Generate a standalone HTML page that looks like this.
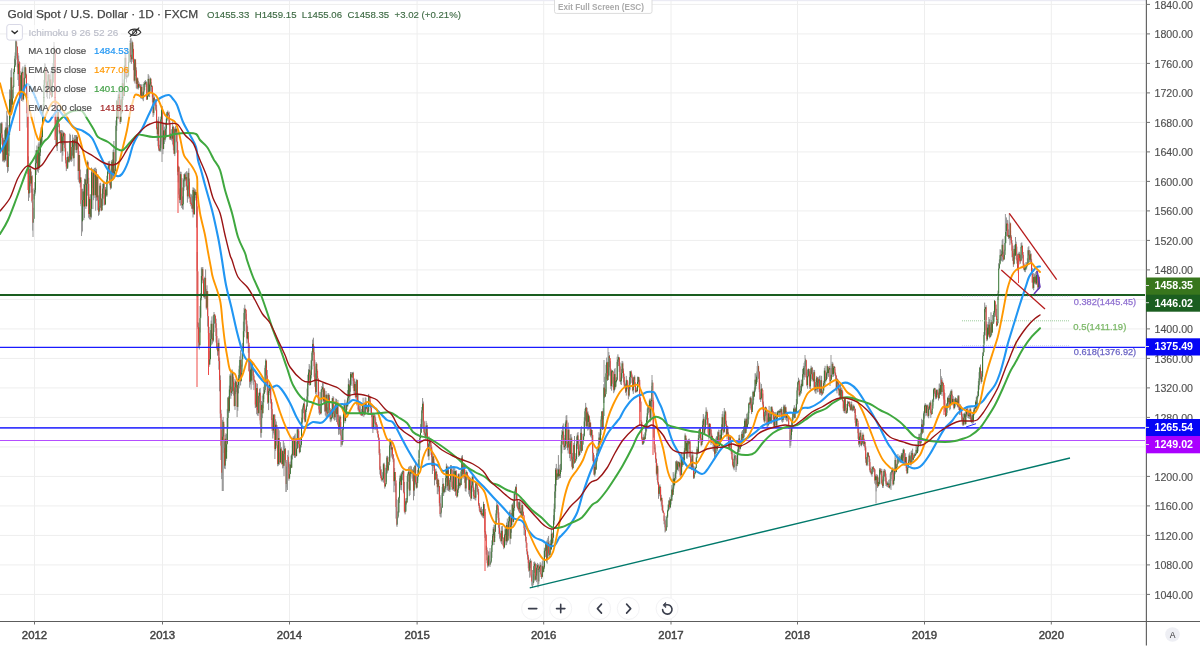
<!DOCTYPE html>
<html lang="en"><head><meta charset="utf-8"><title>Gold Spot / U.S. Dollar</title>
<style>
html,body{margin:0;padding:0;background:#fff}
body{width:1200px;height:653px;overflow:hidden;position:relative;font-family:"Liberation Sans",sans-serif}
svg{position:absolute;left:0;top:0;display:block}
text{font-family:"Liberation Sans",sans-serif}
.ax{font-size:11.3px;fill:#505050;stroke:#505050;stroke-width:0.15px}
.bx{font-size:11.3px;fill:#fff;font-weight:bold}
.yr{font-size:11.4px;fill:#444;stroke:#444;stroke-width:0.45px;text-anchor:middle}
.lg{font-size:9.9px;fill:#505050;stroke:#505050;stroke-width:0.2px}
</style></head><body>
<svg width="1200" height="653" viewBox="0 0 1200 653">
<rect width="1200" height="653" fill="#fff"/>
<rect x="0" y="0" width="1146" height="1.2" fill="#ebebf4"/>
<path d="M0 4.4H1145M0 33.9H1145M0 63.4H1145M0 92.9H1145M0 122.4H1145M0 151.9H1145M0 181.4H1145M0 210.9H1145M0 240.4H1145M0 269.9H1145M0 299.4H1145M0 328.9H1145M0 358.4H1145M0 387.9H1145M0 417.4H1145M0 446.9H1145M0 476.4H1145M0 505.9H1145M0 535.4H1145M0 564.9H1145M0 594.4H1145M34.5 1V621M162.5 1V621M289.5 1V621M417.1 1V621M543.7 1V621M671 1V621M797.5 1V621M924.5 1V621M1051.3 1V621" stroke="#eeeeee" stroke-width="1" fill="none"/>
<filter id="bl" x="-5%" y="-5%" width="110%" height="110%"><feGaussianBlur stdDeviation="0.35"/></filter>
<g fill="none" stroke-width="1" filter="url(#bl)">
<path d="M0.5 123.3V153.2M1.2 122.4V134.1M1.9 121.9V144.5M2.6 134.4V161.5M3.3 138.4V161.2M4 137.6V162.4M4.7 130.2V162.2M5.4 127.1V161M6.1 122.3V160.8M6.8 110.8V166.8M7.5 115.6V172.8M8.2 153.3V171.3M8.9 125V151.3M9.6 89.4V131.4M10.3 90.4V118.5M11 70.2V115M11.7 68.2V111.5M12.4 89.8V102M13.1 85.5V88M13.8 68.7V74M14.5 58.6V68.8M15.2 52.4V67M15.9 40.3V57.8M16.6 43V47M17.3 46.5V67.3M18 53V80M18.7 55.6V86M19.4 61.3V106.4M20.1 71.1V96.9M20.8 75.1V94.2M21.5 72.3V101M22.2 68.4V75.2M22.9 66.5V101.6M23.6 85.2V98M24.3 77.5V95.7M25 64.7V78.6M25.7 68.4V77.9M26.4 73.7V96.5M27.1 85.1V127.6M27.8 93.6V174M28.5 156.3V201M29.2 175.8V197.6M29.9 164.5V193.1M30.6 168V186.3M31.3 171.5V192.5M32 175V202.7M32.7 189.1V230.6M33.4 207.8V222.2M34.1 188.2V199.5M34.8 182.1V195.8M35.5 156.3V192.5M36.2 150V175M36.9 145.5V164.2M37.6 150.1V171.5M38.3 143.5V172.8M39 141.7V170M39.7 143.6V163M40.4 135.7V156M41.1 127.3V147.2M41.8 133V142M42.5 110.7V130M43.2 103.8V116M43.9 79.9V102M44.6 63.2V89.9M45.3 63.5V79.8M46 67V92.3M46.7 81.4V97M47.4 80.8V98.8M48.1 73.1V87.6M48.8 73.8V87.5M49.5 74.5V99M50.2 74.8V95.4M50.9 71V95.1M51.6 89.6V97.6M52.3 66.9V95.9M53 63V83.3M53.7 46.4V73.8M54.4 46V67.9M55.1 54.1V103.5M55.8 99.7V144M56.5 119.7V147.5M57.2 114.7V151M57.9 110.2V123.9M58.6 122.8V127.2M59.3 130V134.2M60 131V140.2M60.7 130V152.9M61.4 130V152.2M62.1 130.1V161.7M62.8 131V155.7M63.5 132.2V144.7M64.2 132.8V144.1M64.9 133.6V151.6M65.6 142.9V163.4M66.3 157.2V171.1M67 162.3V169M67.7 151.5V166.9M68.4 156.2V162.3M69.1 153.6V162.7M69.8 133.6V160.6M70.5 134.9V160.8M71.2 150.6V162M71.9 142.1V161.1M72.6 134.6V155.3M73.3 137.6V158.7M74 143.4V166.3M74.7 135V149.7M75.4 135V146.3M76.1 135V152.9M76.8 135V152.5M77.5 138.8V148.9M78.2 144V179.7M78.9 151V182.2M79.6 159V183.7M80.3 169.5V187.4M81 180V206.2M81.7 189V233.2M82.4 188.7V231.5M83.1 189.2V202.8M83.8 184V220.2M84.5 178.7V217.9M85.2 178.8V185M85.9 174.1V208.9M86.6 169.3V206.5M87.3 160.5V195.7M88 161.7V190.8M88.7 177.8V217.8M89.4 196.9V219M90.1 194.2V219.9M90.8 194.4V219.5M91.5 167.5V217.6M92.2 168.7V188M92.9 175.5V209.1M93.6 169V200.2M94.3 167.8V176.9M95 168V198.1M95.7 167.6V210.7M96.4 169V200.7M97.1 175V201.1M97.8 174V210.2M98.5 195.4V215.8M99.2 205.9V214.7M99.9 183.3V210.4M100.6 182.7V207.9M101.3 198.5V211.2M102 193.7V210M102.7 183.8V206M103.4 182.7V193.9M104.1 181.5V205.2M104.8 193V205.3M105.5 187V202.8M106.2 188.4V196.3M106.9 175.8V196.8M107.6 168.4V184.1M108.3 161.3V174.1M109 161.6V166.7M109.7 160.8V185.3M110.4 182.1V189.6M111.1 168.7V188.9M111.8 160V173.6M112.5 159.3V180.8M113.2 149.8V176M113.9 141V178.7M114.6 169.1V177.6M115.3 148V171M116 120.5V150M116.7 100V130.9M117.4 98.4V117.7M118.1 94.5V119.2M118.8 91V110.5M119.5 88V111.1M120.2 100.7V124M120.9 87.1V120.5M121.6 98.2V114M122.3 70.3V107M123 79.4V100M123.7 83.8V96.5M124.4 65.4V93M125.1 52.9V69.3M125.8 48V79.1M126.5 66.9V82.5M127.2 67V78.1M127.9 74.3V77.4M128.6 51.7V76M129.3 48.7V63M130 40.7V53.5M130.7 38.6V62.2M131.4 54.3V63.8M132.1 40.6V61.8M132.8 44.8V52.4M133.5 49V70.2M134.2 58.7V81.7M134.9 58.9V83.5M135.6 62.4V76.1M136.3 67.3V88.3M137 77.2V89.2M137.7 77.8V89.1M138.4 80.7V89.5M139.1 82.4V88M139.8 84.2V87.4M140.5 84.2V97.7M141.2 84.9V99M141.9 84.1V97.2M142.6 92.4V99.5M143.3 91.2V101.2M144 82V94.4M144.7 81.1V90M145.4 80.1V84.8M146.1 81.1V86.9M146.8 82V100M147.5 95.4V98.7M148.2 74.1V97M148.9 75.5V95.2M149.6 82.5V97.1M150.3 77.5V90.8M151 82V92.9M151.7 85V91.8M152.4 88.1V102.4M153.1 93.3V117M153.8 94.1V115.3M154.5 96.7V103.9M155.2 99V106M155.9 101.3V110.8M156.6 104.9V129.4M157.3 127V141M158 119.4V146.3M158.7 116.7V150.7M159.4 144.8V151.5M160.1 140.4V150.6M160.8 116.6V151.9M161.5 108.8V122.1M162.2 106V144.7M162.9 132.8V154.2M163.6 124V148.4M164.3 126.6V144M165 134.5V141.7M165.7 122.3V138.6M166.4 113.6V136.7M167.1 111.8V119.5M167.8 110.5V120.7M168.5 112.8V115.3M169.2 111.7V125.3M169.9 121.2V139.8M170.6 133V139.9M171.3 129.2V139.9M172 132.6V141.3M172.7 121.2V144.5M173.4 126.2V150.4M174.1 139V154.2M174.8 127.4V156.1M175.5 126.2V134.1M176.2 128V142.4M176.9 129.7V152.7M177.6 151V175.3M178.3 165.7V182.4M179 167.5V198.1M179.7 188.4V203.1M180.4 171.7V205.7M181.1 171.8V195.7M181.8 178V208M182.5 196.4V209.2M183.2 178.3V209.7M183.9 174.1V190.8M184.6 173.4V181.4M185.3 172.7V181.1M186 172V186.6M186.7 171.1V190.2M187.4 185.4V202.7M188.1 171.7V198.7M188.8 168.3V189.7M189.5 178.5V198.3M190.2 193.6V204M190.9 194.6V206.3M191.6 194.4V208.7M192.3 196.2V212.2M193 187.3V217.5M193.7 187.8V214.5M194.4 188.4V214.6M195.1 189.3V200.4M195.8 189.8V198.1M196.5 195V227.6M197.2 252V297.1M197.9 322V328.9M198.6 323.1V347.7M199.3 327.6V349.5M200 306V332.5M200.7 293.2V316.7M201.4 267.3V300.3M202.1 267.6V280.5M202.8 267V283.3M203.5 278.6V297.2M204.2 292.2V298.2M204.9 276.7V298.9M205.6 269.4V298.8M206.3 288.9V309.6M207 285.3V308.5M207.7 308.1V326.6M208.4 319.4V339.7M209.1 326.9V366.8M209.8 350.9V361.5M210.5 330.1V356.3M211.2 320.5V345.4M211.9 316.4V344.5M212.6 333.4V343.5M213.3 315.3V341.8M214 312V332.1M214.7 314.1V323.7M215.4 316.2V327.8M216.1 318.7V342.5M216.8 328.3V349.6M217.5 346.4V355.7M218.2 340.2V355.1M218.9 338.4V369.7M219.6 357.5V391.3M220.3 375.4V418M221 409.8V460M221.7 430.1V479.1M222.4 419.9V491M223.1 416.9V439.6M223.8 424.2V453M224.5 441.5V468.5M225.2 434.9V469.1M225.9 433.3V461.1M226.6 434V452M227.3 408.9V442.7M228 397.2V428.7M228.7 396.2V412.7M229.4 385.6V412.7M230.1 374V395.4M230.8 369.5V398.8M231.5 386.7V395.8M232.2 369.5V394M232.9 371.7V382.3M233.6 376.9V395.6M234.3 382.9V406.5M235 378.9V409.9M235.7 380.4V394.1M236.4 382.9V392.1M237.1 384.3V417.1M237.8 379.7V410.8M238.5 375V393.4M239.2 365.7V388.4M239.9 356.3V372.9M240.6 350.2V385.5M241.3 364.6V377.7M242 352.8V366.7M242.7 342.9V355M243.4 321.6V346.5M244.1 307.9V337.3M244.8 304.7V320.3M245.5 308.9V319.4M246.2 313.7V332.7M246.9 320.7V343.5M247.6 326.3V339.5M248.3 335.7V352.8M249 345V371.6M249.7 359.1V387.7M250.4 361.6V384.5M251.1 369.3V389.6M251.8 361.1V382.6M252.5 365.2V370.6M253.2 369.8V384.8M253.9 374.3V390.1M254.6 379.5V382M255.3 380.4V408.1M256 399.2V407.7M256.7 383.1V414.2M257.4 383.9V415.4M258.1 402.1V416.1M258.8 392.7V413.9M259.5 388.8V402.6M260.2 388V424.5M260.9 410.4V436.9M261.6 401V428.8M262.3 395.6V418.1M263 393.4V408.3M263.7 386.8V399M264.4 382.6V394M265.1 365.4V392.3M265.8 358.7V375.3M266.5 362V383.4M267.2 370V395.2M267.9 381.9V404M268.6 388.9V410.1M269.3 381.5V392.9M270 385V395.1M270.7 388.5V403.5M271.4 398.9V420M272.1 402.2V430.9M272.8 418.2V438.5M273.5 414.2V433.3M274.2 414V435M274.9 414.5V459M275.6 419.2V450.8M276.3 421.5V439.5M277 425V447.9M277.7 444.9V466.3M278.4 428.5V465.6M279.1 430.3V464.9M279.8 452.4V463.8M280.5 442.2V462.8M281.2 447V462.8M281.9 453V464.5M282.6 450.4V468.4M283.3 440.6V467.8M284 442.8V476.1M284.7 445.7V460.2M285.4 448V463.1M286.1 460V491.9M286.8 464.5V487.4M287.5 455V470.2M288.2 450.3V468.3M288.9 462.1V480.7M289.6 463.8V477M290.3 461.5V473.5M291 455.5V468.2M291.7 453.8V467.7M292.4 438.5V459.4M293.1 436.7V442.2M293.8 436.2V456.2M294.5 435.3V457.8M295.2 433.6V458M295.9 448.5V456.8M296.6 441.5V455.7M297.3 427.2V448.9M298 426.9V432.9M298.7 429.1V447.8M299.4 438.8V453.4M300.1 438.8V452.4M300.8 437.4V447.8M301.5 417.7V443.3M302.2 409V424.8M302.9 405.5V410.2M303.6 403.2V413.2M304.3 397.8V420.2M305 417.6V422.5M305.7 408.6V417.3M306.4 404.7V412M307.1 388.6V406.8M307.8 374.7V401.4M308.5 369.2V384.9M309.2 364V380.2M309.9 365.6V385.8M310.6 371.4V382M311.3 359.6V378.5M312 351.1V369.5M312.7 339.6V360.9M313.4 337.7V354.9M314.1 345.9V376.8M314.8 359.8V386.8M315.5 373.3V393.8M316.2 362V395.5M316.9 369V372.3M317.6 376V379.5M318.3 380.7V404.1M319 391.7V413.5M319.7 406.3V415.1M320.4 406.2V414M321.1 389.6V414.4M321.8 386.1V399.4M322.5 383.1V389.9M323.2 381.9V402M323.9 388V403.8M324.6 388.2V411.6M325.3 398.8V415.5M326 391V416.7M326.7 394.5V417.8M327.4 407.4V417.4M328.1 393V416.8M328.8 393.4V401.3M329.5 394.9V416.7M330.2 408.1V421.5M330.9 416.8V422.2M331.6 408.9V420.7M332.3 397.8V418.2M333 396V405.8M333.7 397.2V419.2M334.4 411.1V420.6M335.1 405V420.1M335.8 398.5V413.2M336.5 399V422.1M337.2 402.8V417M337.9 399.9V425.5M338.6 414.9V434.8M339.3 416.3V434.3M340 415V425.2M340.7 422V435.7M341.4 430.1V444.9M342.1 437V445.5M342.8 426.7V442M343.5 410V430.2M344.2 403.5V415M344.9 399.6V423.3M345.6 408.6V418M346.3 402.1V413.5M347 400.5V410M347.7 390.1V406.5M348.4 378.5V400.7M349.1 381.2V402.3M349.8 380.1V400.5M350.5 372V391.8M351.2 372V384.4M351.9 372.6V385.9M352.6 372V378.1M353.3 371.8V388.1M354 379.1V393.6M354.7 378.5V394M355.4 381.6V397.6M356.1 389.3V399.2M356.8 378.9V405.4M357.5 381.2V402.6M358.2 394.2V410.8M358.9 406.5V412.4M359.6 405.3V414.1M360.3 406.1V415.1M361 410.7V415.5M361.7 408.9V415.8M362.4 403V416.2M363.1 397.7V415M363.8 404.1V416.9M364.5 406.5V415.3M365.2 397.4V412.8M365.9 397.8V409.8M366.6 401.3V409.1M367.3 404.8V413.2M368 409.1V415M368.7 393.9V414.9M369.4 397V403.7M370.1 400.5V405.9M370.8 404V414.8M371.5 407.5V417.2M372.2 412.4V428.7M372.9 422.7V433M373.6 412.7V429.2M374.3 413.8V418.2M375 415V429.9M375.7 418.5V429.3M376.4 422V427.1M377.1 425.7V432.9M377.8 431V437.6M378.5 436.2V440.9M379.2 441V455.1M379.9 448.9V474.5M380.6 466.3V477.9M381.3 469.3V480.7M382 475.2V481.7M382.7 472.2V480.7M383.4 463.2V482.6M384.1 462.7V473.1M384.8 467.9V488.6M385.5 483V486M386.2 465.2V481.8M386.9 455.9V473.9M387.6 455.8V472.7M388.3 462.2V468.5M389 457V465M389.7 438.5V461.5M390.4 438.6V446.3M391.1 441.4V457.6M391.8 445.3V456.1M392.5 448.7V459.3M393.2 454V462.2M393.9 459.2V492.2M394.6 468V485.7M395.3 477.3V492.4M396 483.3V518.6M396.7 499.1V525.6M397.4 511.2V523.8M398.1 511.5V518.2M398.8 496.8V513M399.5 478.3V502.9M400.2 474.7V489.9M400.9 473.5V487.6M401.6 472.3V490.3M402.3 471.2V479.9M403 470V480.5M403.7 471.7V493.4M404.4 481.9V512.6M405.1 500.7V514.4M405.8 498.3V510.8M406.5 497.9V504.5M407.2 475.9V499.7M407.9 472.4V488.8M408.6 467.3V475.6M409.3 466.2V496.2M410 472.7V495M410.7 465.7V476.5M411.4 466.4V474.1M412.1 469.6V478.6M412.8 469V481.3M413.5 467.3V500.3M414.2 473.9V496.1M414.9 465.2V485.1M415.6 462V484.2M416.3 475.3V488.6M417 476.8V488.2M417.7 469.9V480.7M418.4 459.4V471.3M419.1 449.6V458M419.8 435.4V444M420.5 424.1V436.7M421.2 418.7V432M421.9 407V428M422.6 398V413.2M423.3 401.5V427.4M424 420.7V435M424.7 428.6V435.9M425.4 433.2V438.5M426.1 420.9V439.8M426.8 422.9V435.2M427.5 425.2V448.5M428.2 443.9V457M428.9 436.2V460.2M429.6 438V446.1M430.3 441.5V449.6M431 445V454.8M431.7 448.5V466.1M432.4 452V474M433.1 455.5V470.9M433.8 459V467.7M434.5 462.5V485.4M435.2 469.2V480.4M435.9 468.6V475.3M436.6 471.4V484.1M437.3 474.2V494M438 478.3V494.4M438.7 483V491.6M439.4 486V506.3M440.1 496.7V516.4M440.8 504V517.2M441.5 506.5V512.8M442.2 486.9V507.5M442.9 478V494.1M443.6 483.2V496M444.3 486.2V493.3M445 486.3V489.9M445.7 470V492.2M446.4 463.6V482.2M447.1 465.4V490.1M447.8 466.7V490.5M448.5 466.6V491M449.2 482.6V491.5M449.9 477.9V491.9M450.6 465V481.9M451.3 465V472.8M452 467.5V489.8M452.7 481.5V490.2M453.4 468.2V490.8M454.1 466.6V476.9M454.8 468.5V491.7M455.5 470.8V495.7M456.2 470.1V489.9M456.9 485.1V497.8M457.6 489.2V495.6M458.3 473.7V492.8M459 473.2V486.4M459.7 482V488.3M460.4 477.5V486.5M461.1 470.3V484.7M461.8 455.7V479.7M462.5 455.2V476.1M463.2 466.2V478.7M463.9 463.4V472.5M464.6 464.4V482.8M465.3 473.9V491.1M466 470V491.8M466.7 471.7V480.4M467.4 473.5V477.7M468.1 475.1V480.2M468.8 476.2V494.3M469.5 477.2V496.6M470.2 477.7V493.3M470.9 485.9V500.8M471.6 480.4V499M472.3 475.3V487.5M473 476V491.7M473.7 486.6V499.1M474.4 489.9V499M475.1 492V500.2M475.8 482.7V500.5M476.5 483.2V486.3M477.2 485.5V492.2M477.9 487.2V494.7M478.6 489V505.9M479.3 503V510.7M480 506.7V512.5M480.7 508.7V514.2M481.4 506.8V515.6M482.1 509.4V516.6M482.8 509V517.7M483.5 501.7V518.3M484.2 504V516M484.9 509V537.9M485.6 531V540.8M486.3 545.7V554.7M487 547.5V563.3M487.7 557.4V567.6M488.4 551.5V566.6M489.1 551.3V565.9M489.8 558.8V565.2M490.5 561.1V564.3M491.2 551.2V563.2M491.9 540.4V557.9M492.6 534V545.6M493.3 527V537.7M494 524.7V545M494.7 525.1V538M495.4 521.2V531M496.1 510.2V524.5M496.8 502.2V514.9M497.5 504.7V509.7M498.2 508.4V520.2M498.9 512.3V534.2M499.6 524.2V538.7M500.3 532.8V540.7M501 530.6V542.5M501.7 526.3V544.2M502.4 526V539.1M503.1 537V545.9M503.8 540.8V549.2M504.5 533.9V548M505.2 527V537.4M505.9 527V545.3M506.6 522.6V544.9M507.3 518.5V542.5M508 524.6V540M508.7 517V536.2M509.4 511.5V522.7M510.1 509.8V544.3M510.8 518.1V539M511.5 512.9V532.8M512.2 504V519.6M512.9 502.9V525.5M513.6 500.5V522M514.3 493.2V510.8M515 489.4V499.7M515.7 486.3V494.9M516.4 484.1V499.9M517.1 494.7V507.4M517.8 501.3V509.6M518.5 502.1V511.3M519.2 501.4V512.3M519.9 498.6V513.3M520.6 508.1V514.4M521.3 510.6V518M522 501.7V517.1M522.7 507V516.9M523.4 514V515.8M524.1 521V535M524.8 528V535.8M525.5 535V541.5M526.2 542V547.8M526.9 549V554.5M527.6 551.5V559.6M528.3 554.8V568.3M529 560.5V571.9M529.7 559.8V577.7M530.4 558.5V568.2M531.1 560.3V577.3M531.8 574.7V585.7M532.5 576.6V588M533.2 574.1V585.2M533.9 561.9V582.4M534.6 561.5V572.8M535.3 562.7V580.7M536 574V580M536.7 564.1V582.2M537.4 562.9V573.3M538.1 564.9V584.4M538.8 563.8V583.8M539.5 566.3V572.1M540.2 562.2V570.8M540.9 563.5V577M541.6 573.5V579M542.3 561.2V576.4M543 559.9V572.7M543.7 565.5V569.7M544.4 547.7V568.8M545.1 548V557.1M545.8 543V556.9M546.5 541.4V562.4M547.2 539.8V563.7M547.9 537.8V547.3M548.6 536V556.4M549.3 549.6V557.1M550 540.9V555M550.7 539.6V552.6M551.4 528.4V549.6M552.1 532.4V545.4M552.8 533.2V541.2M553.5 515.1V535M554.2 503.6V524.7M554.9 484V512M555.6 468V498M556.3 463.9V485.5M557 467.8V475M557.7 469V477.5M558.4 455.1V479.5M559.1 464.7V478.5M559.8 468.5V478M560.5 463.9V478M561.2 440.7V472M561.9 430.2V453.4M562.6 425.6V438.1M563.3 423.4V444.8M564 434.8V450M564.7 438.1V450M565.4 422.3V449.3M566.1 415.6V431.9M566.8 415.1V447.9M567.5 442V450.3M568.2 422.6V453.6M568.9 428.8V448.4M569.6 438.2V458.1M570.3 434.5V461.2M571 434V447.2M571.7 436.8V466.8M572.4 452.9V469.6M573.1 455.8V468M573.8 442.9V459M574.5 436V463.8M575.2 453.2V462M575.9 456.1V460.3M576.6 436.5V459.4M577.3 433.2V449.2M578 432V448.2M578.7 439.4V457M579.4 450.9V455.9M580.1 439.4V454.9M580.8 428.5V449.3M581.5 426.3V452.8M582.2 443.6V450.4M582.9 433.9V444.8M583.6 433.6V439.3M584.3 417.3V434.7M585 408.7V426.6M585.7 402.9V419.8M586.4 406.9V428.2M587.1 407.8V428.6M587.8 411.1V430.6M588.5 414V429.5M589.2 416.8V429.1M589.9 419.6V435.1M590.6 423V436.7M591.3 427.8V437.8M592 430V443.9M592.7 435.2V460.9M593.4 452.8V465M594.1 455.1V475.2M594.8 459.5V476.6M595.5 459.9V473.5M596.2 458.8V468.7M596.9 448.6V462.2M597.6 448.3V459.3M598.3 443.1V454.7M599 432.2V450M599.7 433.7V443.9M600.4 428V443M601.1 416.3V435.1M601.8 411V420.6M602.5 410.9V430M603.2 408.2V419.5M603.9 384.1V403M604.6 376.8V398M605.3 389V395.7M606 364.8V391.7M606.7 357.6V379.2M607.4 361.7V381M608.1 368.6V375.7M608.8 352V376.5M609.5 355V367.2M610.2 361.1V375.9M610.9 368.6V389.1M611.6 369.8V390.7M612.3 370.6V373M613 372V387.2M613.7 377.2V393.2M614.4 369.2V391.5M615.1 368.1V389.5M615.8 377.4V386M616.5 377.2V382.4M617.2 356.7V379.4M617.9 354.3V364.2M618.6 356.7V366M619.3 358.6V371.9M620 362.5V382M620.7 377.4V384.3M621.4 369.1V385M622.1 360.9V378.4M622.8 361.5V373.1M623.5 368.5V382.4M624.2 373.6V388M624.9 382.6V388.1M625.6 383.9V393M626.3 375.9V395.6M627 380V381.7M627.7 382.3V389.3M628.4 384.9V399.4M629.1 387.3V396.8M629.8 371V390.5M630.5 371V383.9M631.2 370.4V377.1M631.9 373.6V382.8M632.6 376.7V391.4M633.3 377.5V393.9M634 376.5V380.7M634.7 375.4V386.8M635.4 382.2V392.8M636.1 387.7V392.1M636.8 387.4V392.4M637.5 376.7V391.6M638.2 376.6V385M638.9 377.6V384.2M639.6 379.7V403.4M640.3 398.5V411.9M641 420V426.1M641.7 421.8V439.7M642.4 437.2V445M643.1 436.7V444.7M643.8 434.4V443M644.5 436.4V441.2M645.2 432.1V439M645.9 424.1V435.5M646.6 416.6V431.2M647.3 408.5V426.1M648 405V414.8M648.7 405.1V409.4M649.4 399.4V412.2M650.1 398.3V422.2M650.8 399.1V420.5M651.5 386V408.1M652.2 380V397.4M652.9 397.5V407.4M653.6 424V437.7M654.3 442.3V449.3M655 447.5V453.4M655.7 452.8V462.8M656.4 458.5V475.5M657.1 463.3V480.1M657.8 468.5V484.7M658.5 481.8V498.8M659.2 484.9V496.3M659.9 484.3V494.5M660.6 489.5V501.5M661.3 494.8V506.6M662 500V510.4M662.7 505.3V512.6M663.4 510.5V513.4M664.1 515.5V524.3M664.8 519V527.3M665.5 520.2V531.7M666.2 526V530.5M666.9 515.4V527.3M667.6 509.6V518M668.3 504.3V511.4M669 500V509.3M669.7 497.3V509.4M670.4 498.9V508M671.1 494.8V504.5M671.8 485.1V501M672.5 487.6V496.7M673.2 472.1V492M673.9 474.4V488.7M674.6 477.9V486.3M675.3 470.5V480.4M676 461V479.4M676.7 460.3V473.8M677.4 461.1V470.3M678.1 461.1V469.6M678.8 461.8V471.3M679.5 462V468.2M680.2 456.6V476.8M680.9 469.3V475.8M681.6 452.3V472M682.3 457.2V466.9M683 452.5V465M683.7 451.7V460.5M684.4 447.9V461.5M685.1 433.4V452.4M685.8 435.8V452.3M686.5 438.3V458.4M687.2 440.3V458.8M687.9 439.7V457.2M688.6 438.9V445.5M689.3 438.6V449.2M690 440.4V457.6M690.7 451.6V466.6M691.4 458.8V470.1M692.1 450.5V468.2M692.8 453V470.2M693.5 465.8V478.8M694.2 468.6V478.7M694.9 466.4V474M695.6 467V469M696.3 456.9V462M697 446.6V455M697.7 447.1V453.2M698.4 435.1V451.5M699.1 429.7V442.9M699.8 428V431.5M700.5 427.4V440.3M701.2 432.3V446.3M701.9 440.1V443.8M702.6 420.6V441.4M703.3 414V427.8M704 416.8V434.7M704.7 428.3V431.5M705.4 415.2V429.6M706.1 407.3V425M706.8 409.7V415.5M707.5 412V424.8M708.2 418V435.2M708.9 431.5V439.7M709.6 423V436.2M710.3 426.5V433.8M711 430V444.9M711.7 433.5V443M712.4 437V443.7M713.1 440V450.6M713.8 440V451.7M714.5 440V457.7M715.2 439.5V457M715.9 437.7V444.5M716.6 436.2V453.1M717.3 436.1V451.2M718 431.3V439.9M718.7 429.6V447.6M719.4 438.3V446M720.1 429.9V444.2M720.8 429.7V442.1M721.5 424.3V440.2M722.2 414V430.8M722.9 411.2V435.3M723.6 429.7V433.2M724.3 408V432.6M725 410.3V420.4M725.7 413.7V426.1M726.4 420.7V435.6M727.1 425.4V439.5M727.8 427.8V434.9M728.5 432.2V448.8M729.2 442.3V449.7M729.9 435.6V450.4M730.6 438.4V442.8M731.3 441.5V454.1M732 450.6V459.9M732.7 457.5V466.4M733.4 461.9V468.7M734.1 453.4V470.3M734.8 454.5V460M735.5 455V460.4M736.2 455.8V469.9M736.9 460.5V466.3M737.6 449.3V464.3M738.3 439.9V453.9M739 435V443.9M739.7 434.7V452.2M740.4 444.1V449.4M741.1 442.7V446.6M741.8 431.5V444.2M742.5 430.1V440.8M743.2 432V439.5M743.9 426V437.7M744.6 418.5V433.5M745.3 420.4V433.9M746 417.7V431.5M746.7 413.7V429M747.4 417.2V426.8M748.1 411.7V424.7M748.8 402.6V419.4M749.5 402.3V405M750.2 397V408.2M750.9 396.2V409.8M751.6 398.5V414.1M752.3 402.3V409.5M753 390.7V405M753.7 391.3V400.3M754.4 387.3V395.7M755.1 373.3V392.2M755.8 373.4V388.9M756.5 375.4V386M757.2 366.1V382.3M757.9 363.4V374.6M758.6 367.6V378.8M759.3 371.5V392.1M760 382.4V400M760.7 392.3V402M761.4 383.9V399.5M762.1 388.3V391M762.8 393.5V410.2M763.5 401.5V419.8M764.2 414.6V422.2M764.9 407.1V423.1M765.6 406.5V416.3M766.3 408.3V415.3M767 410V426.7M767.7 417.6V426.9M768.4 412.3V425.9M769.1 405.9V424.5M769.8 412.4V421M770.5 413.6V421.7M771.2 406.4V424M771.9 406.3V415.4M772.6 408.7V413.5M773.3 411V424.9M774 414.6V428M774.7 412V428M775.4 412.4V418M776.1 411.9V427.9M776.8 413.4V427.5M777.5 411V420.6M778.2 410.5V415.3M778.9 410.1V415.8M779.6 409.4V417.5M780.3 408.8V415.4M781 408.3V414M781.7 406.9V421.5M782.4 414.8V422.6M783.1 409.3V421.8M783.8 404.6V413.3M784.5 405.2V417.8M785.2 404.6V419.9M785.9 406.7V418.1M786.6 410.9V421.4M787.3 412V421.4M788 416.7V418.8M788.7 421.3V428.8M789.4 426V428.7M790.1 429.5V445.9M790.8 432.7V445.6M791.5 422.1V439.4M792.2 417.3V431.8M792.9 412.3V420.9M793.6 407.7V417M794.3 405.2V418.3M795 407V418.3M795.7 407.9V413.7M796.4 399V409M797.1 387.4V404.6M797.8 381.5V391.2M798.5 377.7V384.6M799.2 379.5V396.8M799.9 389V396.1M800.6 385.7V393.7M801.3 379.7V393.5M802 379.7V387.5M802.7 369V386.5M803.4 366.1V377.5M804.1 362.8V379.8M804.8 361.2V376.9M805.5 358.4V367M806.2 360.6V377.9M806.9 372.1V386.3M807.6 369.6V388.7M808.3 368.3V377.3M809 369V372.6M809.7 371V388.8M810.4 369.2V389M811.1 365.7V381.3M811.8 366.9V378.9M812.5 367.4V380M813.2 378.5V381.8M813.9 369.8V387.5M814.6 370.1V391.5M815.3 385.3V393.3M816 379.5V393.8M816.7 376.1V385.3M817.4 377.1V392.3M818.1 377.8V392.1M818.8 376.8V383M819.5 375.7V394.4M820.2 388.8V394.9M820.9 375.5V394.3M821.6 376V395.8M822.3 391.9V395.1M823 386.1V393M823.7 380.8V390.9M824.4 367.9V385.7M825.1 365.8V384.9M825.8 376.7V382.1M826.5 372.1V380M827.2 364.3V378.8M827.9 367.5V375.5M828.6 367.1V376.9M829.3 366V369.9M830 365.8V386M830.7 375V380.4M831.4 368.1V378.5M832.1 361.8V374.8M832.8 362.6V377.1M833.5 366V376.6M834.2 365.9V369.7M834.9 369.2V375.7M835.6 372.4V380.3M836.3 375.2V391.1M837 378V393.4M837.7 379.4V384.1M838.4 380.8V390.6M839.1 389.5V395.9M839.8 386.4V397.8M840.5 386V399.3M841.2 387.4V399.7M841.9 388.2V393.5M842.6 390.6V401.5M843.3 399.9V410.8M844 403.8V412.5M844.7 397.1V413.2M845.4 398.4V410.2M846.1 404V413.9M846.8 410.3V413.2M847.5 400.7V412.7M848.2 401.2V406.2M848.9 401.9V404M849.6 401.4V407.4M850.3 405.5V410.7M851 401.7V410M851.7 401.6V410.7M852.4 405.6V411.4M853.1 404.7V410.4M853.8 404.7V411.1M854.5 406.5V413M855.2 409V422.9M855.9 415V427.9M856.6 418.1V426.5M857.3 419.5V422.3M858 423V438.8M858.7 427.7V445.2M859.4 436V447.2M860.1 431.7V441M860.8 430V445.8M861.5 438.7V446.3M862.2 435V444.8M862.9 432.6V436.8M863.6 435.5V446.1M864.3 438.7V446.5M865 442V450.4M865.7 446.2V462.8M866.4 457.3V465.6M867.1 453.5V466.2M867.8 452V458.5M868.5 453.8V457M869.2 455.5V465.9M869.9 458.8V472.3M870.6 467.8V473.2M871.3 471.3V475.2M872 466.5V476.8M872.7 466.9V473.4M873.4 466V471.8M874.1 467.8V471.4M874.8 469.5V483.6M875.5 474.9V484.8M876.2 474V491.4M876.9 475.6V486.1M877.6 474.7V488M878.3 477.4V485.7M879 481.1V485.7M879.7 468V484.4M880.4 468.3V474.3M881.1 468.7V475.2M881.8 469.2V484.7M882.5 479.5V487.8M883.2 474.6V487.9M883.9 469.4V481.2M884.6 468.9V476.9M885.3 469.8V481.5M886 473.6V486M886.7 481.2V486.5M887.4 481.6V486.9M888.1 482.3V487.4M888.8 479.8V487.9M889.5 483.4V488.4M890.2 473.5V488.6M890.9 471.9V481M891.6 469.9V474.9M892.3 467.4V473.5M893 467.7V485.7M893.7 473.2V484.5M894.4 468.6V481M895.1 455.7V474.3M895.8 457.9V472.8M896.5 464.4V468.2M897.2 463.2V464.7M897.9 454V463.6M898.6 457.6V462.6M899.3 455.6V462.2M900 455.8V462.5M900.7 456.9V462.9M901.4 452.9V463.2M902.1 453.2V462.3M902.8 449.4V463.5M903.5 448.5V457.8M904.2 449.2V465.2M904.9 457.7V465.9M905.6 453.2V463.4M906.3 456.9V471M907 464.2V474.1M907.7 467V470M908.4 459.7V467.6M909.1 453.7V464.3M909.8 452.3V464.7M910.5 456.5V465.3M911.2 450.8V465.4M911.9 450.5V456.8M912.6 448.6V462.9M913.3 456.6V460.4M914 453.4V458M914.7 452.7V456.9M915.4 453.6V455.9M916.1 444.7V454.8M916.8 446.1V453.8M917.5 445.6V452.7M918.2 438.6V451.4M918.9 433.8V442.5M919.6 433.9V444.4M920.3 438.8V446.4M921 427V442.7M921.7 418.7V435.2M922.4 419.9V434M923.1 420.3V429.5M923.8 411.3V426M924.5 404.7V418.5M925.2 403.2V411.6M925.9 403.9V416.3M926.6 405V415.4M927.3 404.8V409M928 404.5V417.2M928.7 406.9V418.3M929.4 403.2V410M930.1 402V407.9M930.8 400.4V417.9M931.5 410.4V414.7M932.2 405.1V410M932.9 398.8V405.6M933.6 388.6V401.9M934.3 387.8V394.1M935 388V396.4M935.7 390.8V399.3M936.4 389.4V399.1M937.1 389.7V394M937.8 389.5V397.6M938.5 392.8V400.5M939.2 383.7V398.6M939.9 383.5V394.9M940.6 377.8V392.3M941.3 376.2V394.1M942 378V396M942.7 380.5V386.1M943.4 382.9V398.6M944.1 389.5V404.5M944.8 393V411.7M945.5 405.8V417M946.2 409.1V416.1M946.9 403V415.1M947.6 397.1V408.5M948.3 396V406.8M949 395V406.8M949.7 393.5V410.4M950.4 391.5V409.2M951.1 389.7V395.9M951.8 389.5V404.8M952.5 394.6V402M953.2 396.1V405.7M953.9 400.4V409.5M954.6 398.9V408.7M955.3 397.2V406.6M956 400V403.7M956.7 398.2V404.8M957.4 398.9V407.2M958.1 395V407.4M958.8 395V410.2M959.5 405V414.8M960.2 404.1V412.4M960.9 409.3V415M961.6 410.6V420.9M962.3 413.7V424.7M963 418.7V426M963.7 413.5V425.6M964.4 413V422.1M965.1 411.8V424.8M965.8 410.5V423.8M966.5 408.5V416.7M967.2 407.2V411.1M967.9 407.9V418M968.6 411.1V418.3M969.3 411.7V418.8M970 407.4V418.7M970.7 408.5V421.8M971.4 417.1V423.2M972.1 414.2V422.4M972.8 412.1V423.9M973.5 410.2V422.7M974.2 407.9V415.3M974.9 405.3V410.9M975.6 400.4V409.1M976.3 396.7V412.2M977 395.5V407M977.7 391.3V398.6M978.4 381V393.1M979.1 372.2V389.6M979.8 366.8V380.1M980.5 364.5V379.4M981.2 371.4V383.7M981.9 371V379M982.6 352.5V373M983.3 345.1V353M984 332V343.5M984.7 302.6V335.7M985.4 306.9V312.3M986.1 305.2V335.6M986.8 324.5V341.2M987.5 324.3V340.5M988.2 321.8V336.6M988.9 317V336.4M989.6 319.2V338.4M990.3 327.4V337.5M991 312.3V336.5M991.7 320V335.4M992.4 315V331M993.1 319.4V324M993.8 310.9V323.3M994.5 300V317M995.2 302.3V310.5M995.9 304.7V317M996.6 308.8V326.6M997.3 319V325M998 290.6V300M998.7 263.2V270M999.4 259.3V265.6M1000.1 249.2V263M1000.8 249.9V260.7M1001.5 250.9V260.7M1002.2 239.9V261.6M1002.9 238.8V261.5M1003.6 251.6V260.5M1004.3 249.6V257.2M1005 236.2V250.6M1005.7 225.6V243.5M1006.4 217.4V236.2M1007.1 219.8V225.5M1007.8 220.2V236.8M1008.5 229.4V238.8M1009.2 235V239.3M1009.9 221.9V245.2M1010.6 230.7V240.3M1011.3 235.3V243.9M1012 240V257.3M1012.7 245.5V260.9M1013.4 253.4V266.9M1014.1 245.7V263.4M1014.8 244.7V259.2M1015.5 237V255M1016.2 241.6V254.6M1016.9 246.6V263.7M1017.6 254.2V270.5M1018.3 253.2V273.1M1019 251.7V264.5M1019.7 252.2V261.6M1020.4 254.9V263.7M1021.1 242.9V261.3M1021.8 242.4V248.2M1022.5 245.7V258.5M1023.2 252V266.2M1023.9 263.3V270.3M1024.6 266.2V271.7M1025.3 266.3V272.2M1026 262V270M1026.7 262.5V268.7M1027.4 258.3V266.3M1028.1 247.2V264.7M1028.8 246.2V255.7M1029.5 250V262M1030.2 250.7V262M1030.9 253.2V263M1031.6 258.8V274.5M1032.3 268.1V283M1033 277.5V289M1033.7 273V290.2M1034.4 274.2V283.5M1035.1 273.5V284M1035.8 272V284.6M1036.5 270.7V284.7M1037.2 273.6V282.6M1037.9 278V289.2M1038.6 275.2V289.9M1039.3 276.6V288.9" stroke="#8e8e8e"/>
<path d="M1.9 123.5V137.8M2.6 137.8V152.4M3.3 152.4V160.3M4.7 140.2V159.7M6.1 128.6V154.9M7.5 127.5V167M10.3 99.4V112M11.7 77.4V104.9M16.6 41.5V46.6M17.3 46.6V58.9M18 58.9V74.1M19.4 63.6V93.5M20.8 75.4V91.3M22.9 72V99.6M25.7 67.2V74.9M26.4 74.9V89.3M27.1 89.3V113.3M27.8 113.3V167.6M28.5 167.6V193.4M30.6 168.8V183.6M32 176.2V201.3M32.7 201.3V222.7M36.9 150.4V153.5M37.6 153.5V167.7M39 146.8V167M41.1 136.1V145.1M45.3 67.2V70.4M46 70.4V82.8M46.7 82.8V92.6M48.8 74.5V79.5M49.5 79.5V92.3M50.9 79.4V94.6M51.6 94.6V96.9M54.4 48.4V49.9M55.1 49.8V101.7M55.8 101.7V136.5M56.5 136.5V145.9M58.6 111.8V123.7M59.3 123.7V132.3M60.7 132.1V143.4M62.1 133.4V151.1M64.2 132.8V134.3M64.9 133.9V148.1M65.6 148.1V160.2M66.3 160.2V166.6M67 166.6V168.5M68.4 156.9V161.8M70.5 141.4V159.5M73.3 140V158.1M75.4 139.2V140.7M76.1 140.4V150M77.5 136.7V143.1M78.2 143.1V171M79.6 155V182.5M81 177.4V203.9M81.7 203.9V221.3M83.8 191.5V206.5M85.9 179.5V206.2M88 162.3V184M88.7 184V214M90.1 198.9V216.7M92.2 172.4V176.5M92.9 176.5V195.4M95 171V195.2M96.4 171.6V197.3M97.8 176.7V200.1M98.5 200.1V211.6M100.6 185.7V199.1M101.3 199.1V210.5M104.1 183.9V199.2M104.8 199.2V204.6M106.2 189.6V195.4M109.7 164.9V182.7M110.4 182.7V187.8M112.5 161.7V173.2M113.9 152.1V176.6M117.4 100.8V117.4M119.5 94.4V106M120.2 106V122M121.6 99.4V112.4M123 83.2V93.9M123.7 93.9V96M125.8 57.8V76.7M127.2 75.5V77M130.7 43V56.8M131.4 56.8V59.3M132.8 42.3V48.7M133.5 48.7V63M134.2 63V80.6M135.6 59.5V70.3M136.3 70.3V83.8M137.7 78.4V87.7M139.1 84V85.5M139.8 84.9V86.4M140.5 85.9V96.9M141.9 86.9V94.8M142.6 94.8V98.1M146.1 82.1V83.6M146.8 83.6V99.5M148.9 78.9V93.6M151 78.6V86.2M152.4 86.2V97.3M153.1 97.3V113.1M154.5 98V99.7M155.2 99.7V101.9M155.9 101.9V109.7M156.6 109.7V128.7M157.3 128.7V134.2M158.7 122V148.6M159.4 148.6V150.6M162.2 109.6V141.6M162.9 141.6V149.1M164.3 130.4V139.8M167.8 111.9V113.4M168.5 113.3V115M169.2 115V123.2M169.9 123.2V138.4M171.3 135.1V136.6M172 136.6V138.7M173.4 126.8V146.5M174.1 146.5V153.7M175.5 129.1V131.7M176.9 128.9V141.4M177.6 141.4V171.7M179 166.6V194.5M179.7 194.5V199.9M181.1 174.2V187.5M181.8 187.5V205.2M185.3 174.4V179.4M186.7 177.1V186.3M187.4 186.3V196.4M188.8 173V181.6M189.5 181.6V197.1M190.2 197.1V202.1M190.9 202.1V203.9M191.6 203.5V205M192.3 204.7V208.7M193.7 190V214.2M195.1 191.5V195.1M196.5 192V206.4M197.2 206.4V271.3M197.9 271.3V327.1M198.6 327.1V342.7M199.3 342.7V345.3M202.8 269.1V280.3M203.5 280.3V295.8M204.2 295.5V297M205.6 277.9V291.3M206.3 291.3V307.7M207.7 291.1V316.1M208.4 316.1V333M209.1 333V364.6M211.9 323.8V337.7M212.6 337.7V340.5M214.7 314.3V315.8M215.4 315.5V323.3M216.1 323.3V336M216.8 336V347.7M217.5 347.7V351.2M218.9 342.9V361.1M219.6 361.1V380M220.3 380V413.6M221 413.6V445.7M221.7 445.7V472.7M223.8 421.8V447.9M224.5 447.9V465.6M225.9 438.8V458.7M228.7 397.6V410.9M230.8 375.6V392.6M232.9 372.6V381.5M233.6 381.5V390.9M234.3 390.9V406M236.4 381.5V388.2M237.1 388.2V406.9M240.6 360V381.3M245.5 308.7V310.2M246.2 309.7V324.4M246.9 324.4V338.5M248.3 332V342.8M249 342.8V371.1M249.7 371.1V381.7M251.1 369.6V380.6M252.5 362.4V367.8M253.2 367.8V375.9M253.9 375.9V379.9M254.6 379.9V381.5M255.3 381.5V404.6M256 404.6V406.8M257.4 388V410.3M258.1 410.3V413M260.2 392.7V420.4M260.9 420.4V432.9M262.3 404.9V413.3M266.5 360.5V375.5M267.2 375.5V386.7M267.9 386.7V402.7M270 384.8V388.1M270.7 388.1V399.6M271.4 399.6V409M272.1 409V427.6M272.8 427.6V430.5M274.2 415V427.5M274.9 427.5V449M276.3 424.7V426.9M277 426.9V445.6M277.7 445.6V464M279.1 438V460.5M279.8 460.5V462.3M281.2 448.6V460.5M281.9 460.5V464.1M283.3 451.1V465.8M285.4 448.9V462.1M286.1 462.1V484M288.2 456.7V467.4M288.9 467.4V478.7M291 464.6V467.7M293.8 438.2V455.2M295.2 439.8V455.1M295.9 454.8V456.3M298 429.5V431M298.7 430.9V444.1M299.4 444.1V452.1M304.3 403.7V419M305 419V421.7M309.9 369.8V385M313.4 343.9V352.2M314.1 352.2V366.3M314.8 366.3V381.3M315.5 381.3V392.1M316.9 363.7V370.6M317.6 370.6V378.3M318.3 378.3V398.6M319 398.6V409.5M319.7 409.5V412.5M320.4 412.1V413.6M323.2 387.3V400.7M324.6 389.6V404.7M325.3 404.7V411.3M326.7 394.8V412.7M327.4 412.3V413.8M328.8 394.8V397.8M329.5 397.8V409.9M330.2 409.9V418.7M333 398.2V401.3M333.7 401.3V413.8M334.4 413.8V417.3M336.5 401.8V414M337.9 404.5V424.2M338.6 424.2V429.3M340.7 416.6V435.1M341.4 435.1V444.6M344.9 404.5V421.1M347 403.7V406.3M349.1 384.3V396.8M351.2 373.9V377.4M353.3 373.1V381M354 381V391M355.4 384V396.6M356.1 396.1V397.6M357.5 380.1V400.4M358.2 400.4V409.3M358.9 408.8V410.3M359.6 409.9V412.9M361 412.5V414.5M361.7 413.9V415.4M363.1 403.8V412.4M364.5 412.2V414.6M365.9 402.8V408.1M367.3 407.3V411.8M369.4 396.1V397.6M370.1 397.5V405.2M370.8 405.2V408.1M371.5 408.1V414.4M372.2 414.4V427.9M372.9 427.4V428.9M374.3 415.5V417M375 416.8V423.6M375.7 423.1V424.6M376.4 423.6V425.1M377.1 424.5V430.5M377.8 430.5V434.2M378.5 434.2V437.6M379.2 437.6V453.3M379.9 453.3V469.8M380.6 469.8V475.8M381.3 475.8V479.1M382 478.5V480M384.1 464.3V472.7M384.8 472.7V486.5M387.6 457.5V470.5M391.1 440.6V449.5M392.5 447.3V454.8M393.2 454.8V458.2M393.9 458.2V481.2M395.3 472V480.4M396 480.4V507M396.7 507V524.6M400.9 475.9V485M403.7 470.9V491.9M404.4 491.9V511.3M405.1 510.8V512.3M406.5 501.2V502.7M409.3 471.9V490.5M411.4 471.2V472.7M412.1 471.6V473.1M413.5 470.7V490.5M415.6 465.9V482.2M416.3 482.2V487.5M423.3 403.7V421.6M424 421.6V432.1M424.7 432V433.5M425.4 433.5V437.3M426.8 425.5V432.5M427.5 432.5V445.7M428.2 445.7V456.1M430.3 441.4V443M431 443V446.7M431.7 446.7V457.2M432.4 457.2V465.8M433.8 456.4V464.7M434.5 464.7V479.7M436.6 471.7V479M437.3 479V487.2M438.7 479.8V486M439.4 486V503.1M440.1 503.1V514M443.6 484V491.9M447.1 466.6V486.2M448.5 470.3V484.9M449.2 484.9V489.7M451.3 468.9V470.4M452 470V487M452.7 487V488.9M454.8 471.2V491.3M456.2 471.2V488.2M456.9 488.2V496.5M459 474.3V485.9M460.4 483.2V485.1M462.5 457.7V474.3M464.6 463.8V477.2M465.3 477.2V488.4M467.4 472.3V475.9M468.1 475.9V479.6M468.8 479.6V489.9M470.2 477.8V491.3M470.9 491.3V498.4M473 476.8V487.9M473.7 487.9V495.9M474.4 495.6V497.1M475.1 496.5V498M476.5 483V484.5M477.2 484.3V489.2M477.9 489.2V491.7M478.6 491.7V504.7M479.3 504.7V508.2M480 508.2V511.9M481.4 510.9V514.7M482.8 513.2V515.9M484.2 504.2V508.9M484.9 508.9V532.3M485.6 532.3V534.5M486.3 534.5V550M487 550V560.4M487.7 560.4V565.5M489.1 555.5V563.5M489.8 563.2V564.7M494 528.8V542M497.5 504.6V506.1M498.2 505.4V517.9M498.9 517.9V527.8M499.6 527.8V533.5M500.3 533.5V537.1M501 537.1V541.2M502.4 530.8V537.9M503.1 537.9V545M503.8 545V547.3M505.9 529.4V541.3M507.3 525.1V540.7M510.1 512.7V538.5M512.9 504.9V521.8M516.4 487.2V499.4M517.1 499.4V506.2M517.8 506.2V508.2M518.5 508V509.5M519.9 502.3V512.8M521.3 511.7V516.6M522.7 505V511.5M523.4 511.5V515.3M524.1 515.3V528M524.8 528V529.7M525.5 529.7V536.7M526.2 536.7V542.8M526.9 542.8V551.4M527.6 551.4V556.7M528.3 556.7V563.2M529 563.2V570.7M531.1 561.2V575.6M531.8 575.6V581.5M532.5 581.5V583.1M535.3 563.7V579.6M538.1 565.2V581.3M540.9 565.2V574.4M541.6 574.4V577.2M543 566.2V572M546.5 543.5V559.5M548.6 542.6V553.6M549.3 553.5V555M550.7 543.7V549.4M552.1 533.7V543.4M556.3 469.6V480M557.7 473.5V476.4M559.1 469.5V476.2M563.3 431.4V444.1M564 444.1V447.2M566.8 420.4V444.2M567.5 444.2V447.5M568.9 429.8V443.9M569.6 443.9V454M571.7 438.5V459.5M572.4 459.5V468.3M574.5 445.1V462.7M578 435.4V446.2M578.7 446.2V455.3M581.5 432.8V450.9M586.4 407.8V426M587.8 412.5V421.9M589.2 415.5V428M590.6 422.5V435.4M592 429.9V434.8M592.7 434.8V453.2M593.4 453.2V462.8M594.1 462.8V474.6M595.5 467.1V469.8M597.6 453.4V455.9M599.7 437.6V442.5M602.5 411.6V429.3M604.6 387.6V396.8M607.4 362.4V380M609.5 356.2V358.1M610.2 358.1V369.7M610.9 369.7V386.1M613 371.1V383.8M613.7 383.8V389.8M615.1 374.1V387.2M619.3 357.3V366.4M620 366.4V381M622.8 363.4V370.7M623.5 370.7V376.9M624.2 376.9V384.7M624.9 384.6V386.1M625.6 385.9V391.6M627 379.8V381.3M627.7 380.8V386.4M628.4 386.4V395.5M631.2 371.6V374.8M631.9 374.8V378.1M632.6 378.1V390.2M634.7 377.1V385.7M635.4 385.7V391.8M636.8 389.9V391.4M638.9 377.1V382.7M639.6 382.7V397.4M640.3 397.4V401.5M641 401.5V421.6M641.7 421.6V438.6M642.4 438.6V443.5M644.5 437.4V439.3M650.1 400.6V417.8M652.9 382.6V401.5M653.6 401.5V427.5M654.3 427.5V444.2M655 444.2V452.2M655.7 452.2V459.2M656.4 459.2V473.7M657.8 465.8V482.5M658.5 482.5V493.8M660.6 486.9V500.4M662 497.8V504.7M662.7 504.7V510.9M663.4 510.9V512.7M664.1 512.7V521M664.8 521V524.3M665.5 524.3V530.7M669.7 500.7V507.2M671.1 499.2V500.7M672.5 489.5V494.9M673.9 478.7V485M676.7 461.6V469.6M678.8 462.1V466.6M680.2 462.7V474.7M680.9 474V475.5M682.3 458.6V465.2M683.7 457.6V460M685.8 435.5V450.7M687.2 443V453.1M688.6 440.3V443.7M690 441.5V456.8M690.7 456.8V464.8M691.4 464.8V467.1M692.8 455.4V469.6M693.5 469.6V477.6M697.7 448.9V452.3M700.5 429.3V438.3M701.2 438.3V445.1M704 418.9V434.1M706.8 411.7V413.5M707.5 413.5V423.6M708.2 423.6V432.7M708.9 432.7V435.6M710.3 423.8V428.8M711 428.8V442.5M712.4 435.8V437.9M713.1 437.9V442.6M713.8 442.6V444.8M714.5 444.8V453.7M716.6 441.5V449.1M718.7 432.2V445.9M720.8 434.8V440.6M722.9 417.2V430.2M723.6 430.2V431.7M725.7 411.5V424M726.4 424V434.7M727.8 426.3V433.6M728.5 433.6V446.6M729.2 446.4V447.9M730.6 436.3V441.8M731.3 441.8V452M732 452V458.7M732.7 458.7V464.9M733.4 464.9V467.4M735.5 455.7V458M736.2 458V466M739.7 438.4V448.6M742.5 433.9V437.9M745.3 420.8V433M746.7 418.9V427.5M749.5 402.8V404.3M750.9 397.7V405.3M751.6 405.3V412M753.7 392V396.7M755.8 379.7V384.1M758.6 365.9V371.6M759.3 371.6V389.4M760 389.4V399.1M762.1 388.6V390.1M762.8 390.1V404.6M763.5 404.6V416.6M764.2 416.6V421.3M766.3 407.4V409.8M767 409.8V423.3M767.7 423.2V424.7M769.1 413.4V423.7M770.5 416.9V421M771.9 407V409.7M772.6 409.7V412.2M773.3 412.2V419.6M774 419.6V426.6M776.1 414.9V425.3M778.9 411.2V412.7M780.3 410.9V412.4M781.7 409.2V417.8M782.4 417.8V420M784.5 406.5V415.1M785.9 407.3V417.8M787.3 413V416.1M788 416.1V417.9M788.7 417.9V425.5M789.4 425.5V428M790.1 428V441.5M794.3 408.8V417.9M795.7 408.7V412.2M799.2 380.8V395.2M802 383.8V385.9M804.1 368.1V375.1M806.2 359.8V377M806.9 377V385M809 369.1V372M809.7 372V386.4M811.8 367.9V373.6M812.5 373.6V378.8M813.2 378.8V381.2M814.6 372.2V386.8M815.3 386.8V390.4M817.4 377.6V388.9M819.5 379.3V391.2M820.2 391.2V392.8M821.6 380.2V393.1M822.3 392.5V394M825.1 370.6V380.8M827.9 366.1V373M830 368.2V381.4M832.8 363.9V374.1M834.9 366.8V373.4M835.6 373.4V375.8M836.3 375.8V388.8M837.7 379.2V382.5M838.4 382.5V389.8M839.1 389.8V395.2M840.5 388.7V397.7M841.9 390V391.5M842.6 391.5V400.8M843.3 400.8V408.5M844 408.5V410.9M845.4 398.4V407.8M846.1 407.8V413.2M848.9 401.6V403.1M849.6 402.7V406.7M850.3 406.7V409.9M851.7 404.3V409.1M852.4 408.8V410.3M854.5 406.8V408.6M855.2 408.6V419.9M855.9 419.9V425.9M857.3 418.8V420.6M858 420.6V433.2M858.7 433.2V443.6M860.8 432.8V444.4M863.6 434.7V444.1M865 441.7V447.6M865.7 447.6V459.1M866.4 459.1V464.8M868.5 452.7V456.1M869.2 456.1V462.1M869.9 462.1V470.4M870.6 470.4V472.3M871.3 472.3V474.1M873.4 467.3V469M874.1 468.4V469.9M874.8 469.3V480.5M876.2 476.3V484.3M877.6 476.5V486.4M879 482V483.9M880.4 469.5V472.3M881.8 471.1V483.4M882.5 483.4V485.9M884.6 470.6V472.1M885.3 471.7V477.4M886 477.4V483.7M886.7 483.3V484.8M888.8 484V487.3M893 469.9V484.4M895.8 460V471.9M898.6 458.1V459.6M899.3 459V460.5M900.7 459.6V461.7M902.1 454.7V461.4M904.2 449.9V461.4M904.9 461.1V462.6M906.3 457.1V468M907 468V473.2M909.8 455.6V460.4M910.5 460.4V463.9M912.6 453V459.7M914.7 454.4V455.9M916.8 449.9V453M919.6 437V442.7M920.3 442.2V443.7M922.4 424.4V432.7M925.9 405.4V413M927.3 405.4V406.9M928 406.6V415.9M930.8 402.6V413.1M931.5 412.9V414.4M935 388.5V393.1M935.7 393.1V397.6M937.1 390.1V391.6M937.8 391.6V395.1M938.5 395.1V398.2M939.9 388.5V394.5M941.3 379.7V392M942.7 382V383.5M943.4 383.2V392.2M944.1 392.2V399.8M944.8 399.8V408.3M945.5 408.3V416.2M948.3 398V402.2M949.7 398.1V405.3M951.8 391.1V403.2M953.2 398.9V402.5M953.9 402.5V408M956 398.4V401.8M957.4 400.9V405.6M958.8 396.2V407.5M959.5 407.5V411.6M960.9 405.7V410.2M961.6 410.2V416.7M962.3 416.7V421.2M963 421.2V424.6M965.1 413.9V424.2M967.2 408.9V410.4M967.9 410V415.7M969.3 415V416.5M970.7 409.4V419.3M971.4 419.3V421.9M972.8 415.3V420.4M974.9 407.8V409.3M976.3 401.9V407.7M980.5 367.7V373.4M981.2 373.4V381.8M986.1 307.2V330.4M986.8 330.4V339.3M988.2 327.7V334.6M989.6 324.6V336.9M991.7 322.3V332.7M995.2 300.9V304.5M995.9 304.5V315.8M996.6 315.8V325.6M1000.8 254.6V256.1M1002.9 244.8V257.1M1003.6 257.1V259.6M1007.1 223.2V224.7M1007.8 224.1V236.4M1009.2 235.6V237.9M1010.6 223.3V236.9M1011.3 236.9V243.2M1012 243.2V250.7M1012.7 250.7V257.1M1013.4 257.1V264.3M1014.8 248.9V255.7M1016.2 244.1V253.8M1016.9 253.8V260.4M1017.6 260.4V267.9M1019.7 253.9V260.6M1020.4 259.8V261.3M1022.5 245.8V254.9M1023.2 254.9V263.7M1023.9 263.7V269.3M1028.8 250.3V255.1M1029.5 255.1V259.8M1030.9 254.2V261.3M1031.6 261.3V273.8M1032.3 273.8V282.3M1033 282.3V287.9M1034.4 277V282.4M1035.8 276.5V283.5M1037.2 275V280.6M1037.9 280.6V287.4M1039.3 277.1V286.2" stroke="#e63a34"/>
<path d="M0.5 133.2V151.7M1.2 123.5V133.2M4 140.2V160.3M5.4 128.6V159.7M6.8 127.5V154.9M8.2 156.2V167M8.9 134.9V156.2M9.6 99.4V134.9M11 77.4V112M12.4 98.3V104.9M13.1 87V98.3M13.8 72.2V87M14.5 65.5V72.2M15.2 55.8V65.5M15.9 41.5V55.8M18.7 63.6V74.1M20.1 75.4V93.5M21.5 73V91.3M22.2 71.7V73.2M23.6 89.1V99.6M24.3 78.1V89.1M25 67.2V78.1M29.2 180.3V193.4M29.9 168.8V180.3M31.3 176.2V183.6M33.4 218.8V222.7M34.1 194.1V218.8M34.8 189.9V194.1M35.5 163.1V189.9M36.2 150.4V163.1M38.3 146.8V167.7M39.7 152.5V167M40.4 136.1V152.5M41.8 137.2V145.1M42.5 112.3V137.2M43.2 109.8V112.3M43.9 84.9V109.8M44.6 67.2V84.9M47.4 81.7V92.6M48.1 74.5V81.7M50.2 79.4V92.3M52.3 82.4V96.9M53 67.3V82.4M53.7 48.6V67.3M57.2 120.5V145.9M57.9 111.8V120.5M60 131.4V132.9M61.4 133.4V143.4M62.8 136.5V151.1M63.5 133.3V136.5M67.7 156.9V168.5M69.1 158.7V161.8M69.8 141.4V158.7M71.2 156.4V159.5M71.9 147V156.4M72.6 140V147M74 144.7V158.1M74.7 139.5V144.7M76.8 136.7V150M78.9 155V171M80.3 177.4V182.5M82.4 200V221.3M83.1 191.5V200M84.5 184.6V206.5M85.2 179.5V184.6M86.6 183.6V206.2M87.3 162.3V183.6M89.4 198.9V214M90.8 208.8V216.7M91.5 172.4V208.8M93.6 171.2V195.4M94.3 170.4V171.9M95.7 171.6V195.2M97.1 176.7V197.3M99.2 207.5V211.6M99.9 185.7V207.5M102 198.4V210.5M102.7 188.5V198.4M103.4 183.9V188.5M105.5 189.6V204.6M106.9 179.5V195.4M107.6 171.6V179.5M108.3 166.1V171.6M109 164.7V166.2M111.1 170.7V187.8M111.8 161.7V170.7M113.2 152.1V173.2M114.6 171.4V176.6M115.3 161.5V171.4M116 125.7V161.5M116.7 100.8V125.7M118.1 100.4V117.4M118.8 94.4V100.4M120.9 99.4V122M122.3 83.2V112.4M124.4 66V96M125.1 57.8V66M126.5 75.6V77.1M127.9 75.3V76.8M128.6 61.8V75.6M129.3 49.8V61.8M130 43V49.8M132.1 42.3V59.3M134.9 59.5V80.6M137 78.4V83.8M138.4 84.1V87.7M141.2 86.9V96.9M143.3 91.6V98.1M144 84V91.6M144.7 83.1V84.6M145.4 82.1V83.7M147.5 96V99.5M148.2 78.9V96M149.6 84.5V93.6M150.3 78.6V84.5M151.7 85.4V86.9M153.8 98V113.1M158 122V134.2M160.1 148.4V150.6M160.8 119.4V148.4M161.5 109.6V119.4M163.6 130.4V149.1M165 137.9V139.8M165.7 128.7V137.9M166.4 118.9V128.7M167.1 112.1V118.9M170.6 135.2V138.4M172.7 126.8V138.7M174.8 129.1V153.7M176.2 128.9V131.7M178.3 166.6V171.7M180.4 174.2V199.9M182.5 204V205.5M183.2 187.4V204.3M183.9 179.6V187.4M184.6 174.4V179.6M186 177.1V179.4M188.1 173V196.4M193 190V208.7M194.4 191.5V214.2M195.8 192V195.1M200 318.2V345.3M200.7 298.1V318.2M201.4 276V298.1M202.1 269.1V276M204.9 277.9V296.7M207 291.1V307.7M209.8 359.3V364.6M210.5 339V359.3M211.2 323.8V339M213.3 323.6V340.5M214 314.7V323.6M218.2 342.9V351.2M222.4 436.5V472.7M223.1 421.8V436.5M225.2 438.8V465.6M226.6 444.3V458.7M227.3 418V444.3M228 397.6V418M229.4 389.4V410.9M230.1 375.6V389.4M231.5 391.3V392.8M232.2 372.6V391.5M235 387.3V406M235.7 381.5V387.3M237.8 385V406.9M238.5 378.8V385M239.2 369.3V378.8M239.9 360V369.3M241.3 372.5V381.3M242 359.4V372.5M242.7 353.1V359.4M243.4 331.2V353.1M244.1 312.9V331.2M244.8 309.3V312.9M247.6 332V338.5M250.4 369.6V381.7M251.8 362.4V380.6M256.7 388V406.8M258.8 395.8V413M259.5 392.7V395.8M261.6 404.9V432.9M263 402.4V413.3M263.7 393.5V402.4M264.4 390.1V393.5M265.1 367.9V390.1M265.8 360.5V367.9M268.6 391V402.7M269.3 384.8V391M273.5 415V430.5M275.6 424.7V449M278.4 438V464M280.5 448.6V462.3M282.6 451.1V464.1M284 454.1V465.8M284.7 448.9V454.1M286.8 466.6V484M287.5 456.7V466.6M289.6 474.1V478.7M290.3 464.6V474.1M291.7 455.3V467.7M292.4 440.4V455.3M293.1 438.2V440.4M294.5 439.8V455.2M296.6 448.4V456M297.3 429.6V448.4M300.1 447.2V452.1M300.8 444.9V447.2M301.5 422.5V444.9M302.2 409.6V422.5M302.9 407.5V409.6M303.6 403.7V407.5M305.7 410V421.7M306.4 406.3V410M307.1 396.4V406.3M307.8 382.6V396.4M308.5 372.5V382.6M309.2 369.8V372.5M310.6 375.1V385M311.3 360.5V375.1M312 352.7V360.5M312.7 343.9V352.7M316.2 363.7V392.1M321.1 392.1V413.1M321.8 389.1V392.1M322.5 387.3V389.1M323.9 389.6V400.7M326 394.8V411.3M328.1 394.8V413.4M330.9 417.8V419.3M331.6 417.2V418.7M332.3 398.2V417.5M335.1 405.9V417.3M335.8 401.8V405.9M337.2 404.5V414M339.3 419.3V429.3M340 416.6V419.3M342.1 442.2V444.6M342.8 429V442.2M343.5 413.4V429M344.2 404.5V413.4M345.6 414.7V421.1M346.3 403.7V414.7M347.7 398.2V406.3M348.4 384.3V398.2M349.8 385.5V396.8M350.5 373.9V385.5M351.9 374.5V377.4M352.6 373.1V374.6M354.7 384V391M356.8 380.1V397.1M360.3 411.9V413.4M362.4 403.8V414.7M363.8 411.5V413M365.2 402.8V414.6M366.6 407V408.5M368 410.8V412.3M368.7 396.1V411.3M373.6 415.7V428.5M382.7 478.3V479.8M383.4 464.3V478.6M385.5 484.3V486.5M386.2 467.7V484.3M386.9 457.5V467.7M388.3 465.3V470.5M389 461.8V465.3M389.7 445.4V461.8M390.4 440.6V445.4M391.8 447.3V449.5M394.6 472V481.2M397.4 516.6V524.6M398.1 512.1V516.6M398.8 497.8V512.1M399.5 481.6V497.8M400.2 475.9V481.6M401.6 474.3V485M402.3 472.3V474.3M403 470.9V472.4M405.8 501.3V511.8M407.2 481.8V502.6M407.9 474.2V481.8M408.6 471.9V474.2M410 473.9V490.5M410.7 471.8V473.9M412.8 470.7V472.6M414.2 475.8V490.5M414.9 465.9V475.8M417 483.2V487.5M417.7 476.7V483.2M418.4 466.6V476.7M419.1 450.4V466.6M419.8 438.3V450.4M420.5 433V438.3M421.2 426.9V433M421.9 410.4V426.9M422.6 403.7V410.4M426.1 425.5V437.3M428.9 443.4V456.1M429.6 441.4V443.4M433.1 456.4V465.8M435.2 472.7V479.7M435.9 471.5V473M438 479.8V487.2M440.8 512.5V514M441.5 507.8V512.5M442.2 493.1V507.8M442.9 484V493.1M444.3 489.2V491.9M445 487.9V489.4M445.7 478.1V488M446.4 466.6V478.1M447.8 470.3V486.2M449.9 479.9V489.7M450.6 469.2V479.9M453.4 475.2V488.9M454.1 471.2V475.2M455.5 471.2V491.3M457.6 489.8V496.5M458.3 474.3V489.8M459.7 483.2V485.9M461.1 471.5V485.1M461.8 457.7V471.5M463.2 466.8V474.3M463.9 463.8V466.8M466 472.4V488.4M466.7 471.6V473.1M469.5 477.8V489.9M471.6 485.4V498.4M472.3 476.8V485.4M475.8 483.2V497.7M480.7 510.7V512.2M482.1 513.2V514.7M483.5 504.2V515.9M488.4 555.5V565.5M490.5 561.7V564.4M491.2 551.9V561.7M491.9 545.2V551.9M492.6 535.6V545.2M493.3 528.8V535.6M494.7 531.9V542M495.4 522.9V531.9M496.1 513.5V522.9M496.8 505.3V513.5M501.7 530.8V541.2M504.5 535.2V547.3M505.2 529.4V535.2M506.6 525.1V541.3M508 529.7V540.7M508.7 521.2V529.7M509.4 512.7V521.2M510.8 525.4V538.5M511.5 517.2V525.4M512.2 504.9V517.2M513.6 508V521.8M514.3 493.9V508M515 490.9V493.9M515.7 487.2V490.9M519.2 502.3V509.4M520.6 511.5V513M522 505V516.6M529.7 562.4V570.7M530.4 561.1V562.6M533.2 580.5V583.1M533.9 566.1V580.5M534.6 563.7V566.1M536 575.8V579.6M536.7 567.6V575.8M537.4 565.2V567.6M538.8 568.7V581.3M539.5 566.6V568.7M540.2 565.2V566.7M542.3 566.2V577.2M543.7 567.4V572M544.4 550.9V567.4M545.1 549.6V551.1M545.8 543.5V549.8M547.2 546.5V559.5M547.9 542.6V546.5M550 543.7V554.9M551.4 533.7V549.4M552.8 537.8V543.4M553.5 520.6V537.8M554.2 508.8V520.6M554.9 491.5V508.8M555.6 469.6V491.5M557 473.5V480M558.4 469.5V476.4M559.8 474V476.2M560.5 469.9V474M561.2 444.7V469.9M561.9 434.8V444.7M562.6 431.4V434.8M564.7 445.8V447.3M565.4 423.7V445.9M566.1 420.4V423.7M568.2 429.8V447.5M570.3 442.4V454M571 438.5V442.4M573.1 456.7V468.3M573.8 445.1V456.7M575.2 461.1V462.7M575.9 458.9V461.1M576.6 443.7V458.9M577.3 435.4V443.7M579.4 451.5V455.3M580.1 444.4V451.5M580.8 432.8V444.4M582.2 444.5V450.9M582.9 440.4V444.5M583.6 436.4V440.4M584.3 421.4V436.4M585 411.3V421.4M585.7 407.8V411.3M587.1 412.5V426M588.5 415.5V421.9M589.9 422.5V428M591.3 429.9V435.4M594.8 467.1V474.6M596.2 460.9V469.8M596.9 453.4V460.9M598.3 448.8V455.9M599 437.6V448.8M600.4 428.8V442.5M601.1 419.6V428.8M601.8 411.6V419.6M603.2 416V429.3M603.9 387.6V416M605.3 394.1V396.8M606 373.3V394.1M606.7 362.4V373.3M608.1 375.1V380M608.8 356.2V375.1M611.6 371.2V386.1M612.3 370.4V371.9M614.4 374.1V389.8M615.8 380.9V387.2M616.5 379.9V381.4M617.2 361.9V380.4M617.9 359.6V361.9M618.6 357.3V359.6M620.7 380.2V381.7M621.4 373.1V380.9M622.1 363.4V373.1M626.3 380.3V391.6M629.1 389.5V395.5M629.8 377.1V389.5M630.5 371.6V377.1M633.3 379.6V390.2M634 377.1V379.6M636.1 390.3V391.8M637.5 381.9V391M638.2 377.1V381.9M643.1 442.6V444.1M643.8 437.4V443.2M645.2 432.5V439.3M645.9 427.3V432.5M646.6 419.9V427.3M647.3 413.2V419.9M648 407.2V413.2M648.7 406V407.5M649.4 400.6V406.4M650.8 401V417.8M651.5 390.1V401M652.2 382.6V390.1M657.1 465.8V473.7M659.2 487.3V493.8M659.9 486.3V487.8M661.3 497.8V500.4M666.2 527.2V530.7M666.9 516.7V527.2M667.6 510.5V516.7M668.3 504.7V510.5M669 500.7V504.7M670.4 499.3V507.2M671.8 489.5V500.6M673.2 478.7V494.9M674.6 478.3V485M675.3 472.4V478.3M676 461.6V472.4M677.4 463.4V469.6M678.1 462V463.5M679.5 462.7V466.6M681.6 458.6V474.9M683 457.6V465.2M684.4 450.5V460M685.1 435.5V450.5M686.5 443V450.7M687.9 440.3V453.1M689.3 441.5V443.7M692.1 455.4V467.1M694.2 474.5V477.6M694.9 473V474.5M695.6 468V473.1M696.3 458.2V468M697 448.9V458.2M698.4 438.2V452.3M699.1 430.3V438.2M699.8 429.1V430.6M701.9 441.8V445.1M702.6 425.1V441.8M703.3 418.9V425.1M704.7 429.3V434.1M705.4 419.6V429.3M706.1 411.7V419.6M709.6 423.8V435.6M711.7 435.8V442.5M715.2 442.9V453.7M715.9 441.5V443M717.3 436.6V449.1M718 432.2V436.6M719.4 444.5V446M720.1 434.8V444.5M721.5 429.2V440.6M722.2 417.2V429.2M724.3 414.4V431.7M725 411.5V414.4M727.1 426.3V434.7M729.9 436.3V447.7M734.1 458.9V467.4M734.8 455.7V458.9M736.9 464.1V466M737.6 451.8V464.1M738.3 442.7V451.8M739 438.4V442.7M740.4 446.8V448.6M741.1 443.1V446.8M741.8 433.9V443.1M743.2 436.6V438.1M743.9 428.4V436.8M744.6 420.8V428.4M746 418.9V433M747.4 423.8V427.5M748.1 413.3V423.8M748.8 403.5V413.3M750.2 397.7V403.6M752.3 404.1V412M753 392V404.1M754.4 390.6V396.7M755.1 379.7V390.6M756.5 376.9V384.1M757.2 371.5V376.9M757.9 365.9V371.5M760.7 397.8V399.3M761.4 388.7V398M764.9 411.8V421.3M765.6 407.4V411.8M768.4 413.4V424.6M769.8 416.9V423.7M771.2 407V421M774.7 417.2V426.6M775.4 414.9V417.2M776.8 417.6V425.3M777.5 412.4V417.6M778.2 411.2V412.7M779.6 411V412.5M781 409.2V412.3M783.1 412.7V420M783.8 406.5V412.7M785.2 407.3V415.1M786.6 413V417.8M790.8 435.2V441.5M791.5 426.1V435.2M792.2 419.7V426.1M792.9 413.3V419.7M793.6 408.8V413.3M795 408.7V417.9M796.4 403.8V412.2M797.1 390.4V403.8M797.8 382.3V390.4M798.5 380.8V382.3M799.9 392.3V395.2M800.6 390.8V392.3M801.3 383.8V390.8M802.7 374.2V385.9M803.4 368.1V374.2M804.8 366.2V375.1M805.5 359.8V366.2M807.6 376.1V385M808.3 369.1V376.1M810.4 374.3V386.4M811.1 367.9V374.3M813.9 372.2V381.2M816 382V390.4M816.7 377.6V382M818.1 381V388.9M818.8 379.3V381M820.9 380.2V392.8M823 390.4V393.5M823.7 383.1V390.4M824.4 370.6V383.1M825.8 379.6V381.1M826.5 373.3V379.8M827.2 366.1V373.3M828.6 369.4V373M829.3 368V369.5M830.7 379.8V381.4M831.4 374.3V379.8M832.1 363.9V374.3M833.5 367.9V374.1M834.2 366.6V368.1M837 379.2V388.8M839.8 388.7V395.2M841.2 390V397.7M844.7 398.4V410.9M846.8 410.7V413.2M847.5 403.5V410.7M848.2 402V403.5M851 404.3V409.9M853.1 406.9V410M853.8 406.1V407.6M856.6 418.8V425.9M859.4 436.8V443.6M860.1 432.8V436.8M861.5 443.2V444.7M862.2 436.4V443.5M862.9 434.7V436.4M864.3 441.7V444.1M867.1 456.9V464.8M867.8 452.7V456.9M872 468.9V474.1M872.7 467.3V468.9M875.5 476.3V480.5M876.9 476.5V484.3M878.3 482V486.4M879.7 469.5V483.9M881.1 471V472.5M883.2 476.2V485.9M883.9 471V476.2M887.4 483.4V484.9M888.1 483.3V484.8M889.5 486V487.5M890.2 479V486.2M890.9 472.4V479M891.6 471.4V472.9M892.3 469.9V471.9M893.7 479.7V484.4M894.4 469.1V479.7M895.1 460V469.1M896.5 467.3V471.9M897.2 463.9V467.3M897.9 458.5V463.9M900 459.2V460.7M901.4 454.7V461.7M902.8 453.2V461.4M903.5 449.9V453.2M905.6 457.1V462.2M907.7 467.5V473.2M908.4 461.6V467.5M909.1 455.6V461.6M911.2 455.1V463.9M911.9 453V455.1M913.3 458V459.7M914 454.9V458M915.4 454V455.5M916.1 449.9V454.1M917.5 447.2V453M918.2 439.5V447.2M918.9 437V439.5M921 432.7V443.3M921.7 424.4V432.7M923.1 425.3V432.7M923.8 413.4V425.3M924.5 406.1V413.4M925.2 405V406.5M926.6 405.6V413M928.7 408.8V415.9M929.4 405.5V408.8M930.1 402.6V405.5M932.2 408.6V414.1M932.9 399.7V408.6M933.6 389.5V399.7M934.3 388.3V389.8M936.4 390.1V397.6M939.2 388.5V398.2M940.6 379.7V394.5M942 382.2V392M946.2 412.8V416.2M946.9 404.1V412.8M947.6 398V404.1M949 398.1V402.2M950.4 394.8V405.3M951.1 391.1V394.8M952.5 398.9V403.2M954.6 403.1V408M955.3 398.4V403.1M956.7 400.6V402.1M958.1 396.2V405.6M960.2 405.7V411.6M963.7 417.7V424.6M964.4 413.9V417.7M965.8 414.4V424.2M966.5 409.3V414.4M968.6 414.6V416.1M970 409.4V416.5M972.1 415.3V421.9M973.5 412.2V420.4M974.2 408.5V412.2M975.6 401.9V408.6M977 397.3V407.7M977.7 396V397.5M978.4 385.3V396.2M979.1 378.4V385.3M979.8 367.7V378.4M981.9 376.8V381.8M982.6 356V376.8M983.3 352.3V356M984 334.9V352.3M984.7 309V334.9M985.4 307.2V309M987.5 327.7V339.3M988.9 324.6V334.6M990.3 335.2V336.9M991 322.3V335.2M992.4 323.8V332.7M993.1 321.7V323.8M993.8 312.7V321.7M994.5 300.9V312.7M997.3 323.3V325.6M998 293.5V323.3M998.7 268.6V293.5M999.4 264.3V268.6M1000.1 255.2V264.3M1001.5 254.2V255.7M1002.2 244.8V254.5M1004.3 254.9V259.6M1005 243V254.9M1005.7 230.9V243M1006.4 223.7V230.9M1008.5 235.2V236.7M1009.9 223.3V237.9M1014.1 248.9V264.3M1015.5 244.1V255.7M1018.3 258.1V267.9M1019 253.9V258.1M1021.1 246.9V260.6M1021.8 245.6V247.1M1024.6 268.6V270.1M1025.3 268.1V269.6M1026 266.8V268.4M1026.7 265.3V266.8M1027.4 263.2V265.4M1028.1 250.3V263.2M1030.2 254.2V259.8M1033.7 277V287.9M1035.1 276.5V282.4M1036.5 275V283.5M1038.6 277.1V287.4" stroke="#34742f"/>
</g>
<g fill="none" stroke-width="1" filter="url(#bl)">
<path d="M33 200V237M81.5 200V236M222.3 440V491M223.3 440V491M286 460V492M287.5 455V490M652 375V400M665 516V532.5M876 480V503.5M608 347.5V362M604 360V382M1005.4 214V232M1009.3 213.5V235M397 500V527M441 495V517.5M532.5 570V588M538 570V587.5M261 410V438M341 428V447M790 432V448M16 40V60M131 38V55M54 42V70M736 455V472M891 472V490M757.5 361V380M805 355V375M831 355V375M940.5 369V385M162 130V162M490 548V567" stroke="#9a9a9a"/>
<path d="M197 200V387M485 512V571M653 400V455M639.7 380V425M208.5 330V375M55 60V140M28 100V190M178 150V213M19.7 62V131M1018.5 255V283M944 385V415" stroke="#ee4a46"/>
</g>
<path d="M0 295H1145" stroke="#1b5e20" stroke-width="2"/>
<path d="M0 347.3H1145" stroke="#1a1aff" stroke-width="1.3"/>
<path d="M0 427.9H1145" stroke="#3b3bff" stroke-width="1.8"/>
<path d="M0 440.5H1145" stroke="#b44dff" stroke-width="1.1"/>
<path d="M962 320.8H1070" stroke="#9ccc9c" stroke-width="1" stroke-dasharray="1 1"/>
<path d="M962 345.8H1070" stroke="#c5cae9" stroke-width="1" stroke-dasharray="1 1"/><path d="M1016 340.5V349" stroke="#f5e663" stroke-width="1"/>
<path d="M962 296.3H1070" stroke="#d1c4e9" stroke-width="1" stroke-dasharray="1 1.5"/>
<g fill="none" stroke-linejoin="round" stroke-linecap="round">
<path d="M0 152.5C1.2 150.2 5 144.1 7 139C9 133.9 10.3 127.7 12 122C13.7 116.3 15.3 109.8 17 105C18.7 100.2 20.2 96.5 22 93C23.8 89.5 25.7 84.2 27.5 84C29.3 83.8 31.2 88.7 33 92C34.8 95.3 36.5 100.2 38 104C39.5 107.8 40.3 112 42 115C43.7 118 46.2 121.8 48 122C49.8 122.2 51.3 118 53 116C54.7 114 56.5 110.3 58 110C59.5 109.7 60.5 112.3 62 114C63.5 115.7 64.8 117.7 67 120C69.2 122.3 72.3 126.2 75 128C77.7 129.8 80.2 129.3 83 131C85.8 132.7 89.2 134 92 138C94.8 142 97.3 149.7 100 155C102.7 160.3 105.2 166.5 108 170C110.8 173.5 114.7 175.3 117 176C119.3 176.7 120.2 176.3 122 174C123.8 171.7 126.2 166.8 128 162C129.8 157.2 131.3 149.5 133 145C134.7 140.5 136.5 137.7 138 135C139.5 132.3 140 132.8 142 129C144 125.2 147.8 116.5 150 112C152.2 107.5 153 104.5 155 102C157 99.5 159.7 98.2 162 97C164.3 95.8 167.2 94.7 169 95C170.8 95.3 171.7 97.3 173 99C174.3 100.7 175.3 101.2 177 105C178.7 108.8 180.8 117 183 122C185.2 127 187.8 130.8 190 135C192.2 139.2 194.7 142.8 196 147C197.3 151.2 197.2 156.2 198 160C198.8 163.8 199.8 165.8 201 170C202.2 174.2 203.2 178.3 205 185C206.8 191.7 209.8 201.3 212 210C214.2 218.7 216.3 228.7 218 237C219.7 245.3 220.7 252 222 260C223.3 268 224.3 276.7 226 285C227.7 293.3 230.2 302.2 232 310C233.8 317.8 235.3 325.3 237 332C238.7 338.7 240.5 345.5 242 350C243.5 354.5 244.7 357.2 246 359C247.3 360.8 248.8 359.5 250 361C251.2 362.5 251 364.8 253 368C255 371.2 259.2 376.8 262 380C264.8 383.2 267.5 386.6 270 387.5C272.5 388.4 275 385.1 277 385.5C279 385.9 279.8 387.1 282 390C284.2 392.9 287.5 398.3 290 403C292.5 407.7 294.8 414 297 418C299.2 422 301.2 425.8 303 427C304.8 428.2 306.3 425.8 308 425C309.7 424.2 310.7 422.4 313 422C315.3 421.6 319.2 423.8 322 422.5C324.8 421.2 327.3 416.9 330 414C332.7 411.1 335.2 406.7 338 405C340.8 403.3 344.5 404.8 347 404C349.5 403.2 350.8 400.2 353 400C355.2 399.8 358 401.5 360 402.5C362 403.5 363 405.4 365 406C367 406.6 369.8 405.2 372 406C374.2 406.8 375.5 408.7 378 411C380.5 413.3 384.5 418.1 387 420C389.5 421.9 390.8 420 393 422.5C395.2 425 397.5 430.4 400 435C402.5 439.6 405 444.8 408 450C411 455.2 415.7 463.2 418 466C420.3 468.8 420.3 467.3 422 467C423.7 466.7 425.5 464.3 428 464C430.5 463.7 434.5 463.8 437 465C439.5 466.2 440.8 470.6 443 471C445.2 471.4 447.7 468.1 450 467.5C452.3 466.9 455.3 467.2 457 467.5C458.7 467.8 458.3 469 460 469C461.7 469 465.3 467.2 467 467.5C468.7 467.8 468.3 468.9 470 471C471.7 473.1 474.8 477.5 477 480C479.2 482.5 480.3 483.2 483 486C485.7 488.8 489.7 493.4 493 497C496.3 500.6 499.7 504 503 507.5C506.3 511 509.8 515.8 513 518C516.2 520.2 519.5 519 522 521C524.5 523 525.8 527.2 528 530C530.2 532.8 532.5 535.7 535 537.5C537.5 539.3 540.5 539.6 543 541C545.5 542.4 548 545.3 550 546C552 546.7 553.5 546.3 555 545C556.5 543.7 557.8 539.7 559 538C560.2 536.3 560.5 536.7 562 535C563.5 533.3 565.5 531.7 568 528C570.5 524.3 574.5 518.8 577 513C579.5 507.2 580.8 499.7 583 493C585.2 486.3 587.7 479 590 473C592.3 467 594.8 462 597 457C599.2 452 601.2 447 603 443C604.8 439 605.7 436.6 608 433C610.3 429.4 615 424.1 617 421.5C619 418.9 618.7 419.8 620 417.7C621.3 415.6 622.8 411.9 624.7 409C626.6 406.1 629.2 402.4 631.5 400.2C633.8 397.9 636.4 396.4 638.2 395.5C640 394.6 640.7 395.1 642.2 394.5C643.7 393.9 645.2 392.4 647 392C648.8 391.6 651.7 391.8 653 392C654.3 392.2 654.1 392 655 393.5C655.9 395 657.3 398.5 658.4 401C659.5 403.5 660.6 405.1 661.8 408.3C663 411.5 664.8 417.1 665.8 420.4C666.8 423.7 666.8 424.3 668 428C669.2 431.7 671 438 673 442.5C675 447 677.7 451.1 680 455C682.3 458.9 684.8 463.7 687 466C689.2 468.3 690.5 467.7 693 469C695.5 470.3 699.7 473.8 702 474C704.3 474.2 705.2 472.2 707 470C708.8 467.8 710.5 464.7 713 461C715.5 457.3 718.8 451.3 722 448C725.2 444.7 729 442 732 441C735 440 737.3 442.6 740 442C742.7 441.4 745.5 439.1 748 437.5C750.5 435.9 752.5 434.5 755 432.5C757.5 430.5 760.2 427.3 763 425.5C765.8 423.7 768.8 422.8 772 421.5C775.2 420.2 779.5 419.4 782 418C784.5 416.6 784.5 413.9 787 413C789.5 412.1 794.3 413.3 797 412.5C799.7 411.7 800.8 408.8 803 408C805.2 407.2 807.2 408.5 810 407.5C812.8 406.5 817 404.1 820 402C823 399.9 825.2 397.3 828 395C830.8 392.7 834.5 390 837 388C839.5 386 840.8 383.7 843 383C845.2 382.3 847.7 382.8 850 384C852.3 385.2 854.5 387 857 390C859.5 393 862.3 397.8 865 402C867.7 406.2 870.5 410.7 873 415C875.5 419.3 877.7 423.5 880 428C882.3 432.5 885.2 438.7 887 442C888.8 445.3 889.3 445.5 891 448C892.7 450.5 894.7 454.3 897 457C899.3 459.7 902.5 462.2 905 464C907.5 465.8 910 467.3 912 468C914 468.7 915.3 468.5 917 468C918.7 467.5 919.8 467.3 922 465C924.2 462.7 927.2 458.5 930 454C932.8 449.5 936.5 442.3 939 438C941.5 433.7 942.8 430.8 945 428C947.2 425.2 949.8 423.5 952 421C954.2 418.5 955.5 415.3 958 413C960.5 410.7 964.2 408.2 967 407C969.8 405.8 972.5 406.8 975 406C977.5 405.2 979.8 404 982 402C984.2 400 985.8 396.8 988 394C990.2 391.2 993 388.5 995 385C997 381.5 998.3 378 1000 373C1001.7 368 1003.7 360 1005 355C1006.3 350 1006.8 347.2 1008 343C1009.2 338.8 1010 336.5 1012 330C1014 323.5 1017.7 311.3 1020 304C1022.3 296.7 1024.5 290.5 1026 286C1027.5 281.5 1027.8 279.5 1029 277C1030.2 274.5 1031.7 272.7 1033 271C1034.3 269.3 1035.8 267.8 1037 267C1038.2 266.2 1039.5 266.6 1040 266.5" stroke="#2196f3" stroke-width="2.1"/>
<path d="M0 83.3C0.7 85.8 2.3 92.7 4 98C5.7 103.3 8.3 114.2 10 115C11.7 115.8 12.5 106.8 14 103C15.5 99.2 17.2 94 19 92.5C20.8 91 23.3 91.4 25 94C26.7 96.6 27.7 103.2 29 108C30.3 112.8 31.8 118.7 33 123C34.2 127.3 35 131.2 36 134C37 136.8 38.2 140.3 39 140C39.8 139.7 40.3 134.8 41 132C41.7 129.2 41.8 126.7 43 123C44.2 119.3 46.3 113.5 48 110C49.7 106.5 51.3 103.2 53 102C54.7 100.8 56.5 101.8 58 103C59.5 104.2 60.5 106.7 62 109C63.5 111.3 65.3 114.2 67 117C68.7 119.8 70.2 123.5 72 126C73.8 128.5 75.8 128.5 77.5 132C79.2 135.5 80.4 141.3 82 147C83.6 152.7 85.3 162.2 87 166C88.7 169.8 90.3 168.5 92 170C93.7 171.5 94.8 172.8 97 175C99.2 177.2 102.8 182 105 183C107.2 184 108.5 181.8 110 181C111.5 180.2 112.7 180.3 114 178C115.3 175.7 116.5 172.2 118 167C119.5 161.8 121.5 153.2 123 147C124.5 140.8 125.8 135.7 127 130C128.2 124.3 129 117.8 130 113C131 108.2 132.2 104 133 101C133.8 98 134.2 96 135 95C135.8 94 136.8 94.7 138 95C139.2 95.3 140.7 97 142 97C143.3 97 144.7 95.8 146 95C147.3 94.2 148.7 92.7 150 92.5C151.3 92.3 152.8 93.2 154 94C155.2 94.8 155.8 95 157 97C158.2 99 159.7 103 161 106C162.3 109 163.5 112.8 165 115C166.5 117.2 168.3 117.8 170 119C171.7 120.2 173.5 119.7 175 122C176.5 124.3 177.7 128 179 133C180.3 138 182 148 183 152C184 156 184.2 155.5 185 157C185.8 158.5 186.7 159.2 188 161C189.3 162.8 191.5 165.3 193 168C194.5 170.7 196.2 172.8 197 177C197.8 181.2 197 187 197.5 193C198 199 198.8 206 200 213C201.2 220 203.7 228.5 205 235C206.3 241.5 207 246.5 208 252C209 257.5 210.2 263.7 211 268C211.8 272.3 211.5 272.7 213 278C214.5 283.3 218.4 292.7 220 300C221.6 307.3 221.7 314.8 222.5 322C223.3 329.2 224.2 337 225 343C225.8 349 226.7 353.5 227.5 358C228.3 362.5 228.8 367.3 230 370C231.2 372.7 233.7 372.2 235 374C236.3 375.8 236.8 380.8 238 381C239.2 381.2 240.9 378.5 242.5 375C244.1 371.5 245.9 362.2 247.5 360C249.1 357.8 249.9 359.8 252 362C254.1 364.2 257.8 369.8 260 373C262.2 376.2 263.7 379.8 265 381C266.3 382.2 266.7 378.5 268 380C269.3 381.5 271 384.7 273 390C275 395.3 277.7 405.3 280 412C282.3 418.7 285 425.5 287 430C289 434.5 290.3 437.5 292 439C293.7 440.5 295.3 439.3 297 439C298.7 438.7 300.3 439.7 302 437C303.7 434.3 305.3 428 307 423C308.7 418 310.5 411.5 312 407C313.5 402.5 314.7 397.3 316 396C317.3 394.7 318.7 398.7 320 399C321.3 399.3 322.3 397.5 324 398C325.7 398.5 327.8 401.2 330 402C332.2 402.8 335.5 402 337.5 403C339.5 404 340.6 405.7 342 408C343.4 410.3 344.8 416.2 346 417C347.2 417.8 347.5 414.8 349 412.5C350.5 410.2 352.8 404.2 355 403C357.2 401.8 359.8 405.2 362 405C364.2 404.8 365.8 401.5 368 402C370.2 402.5 373.5 406.7 375 408C376.5 409.3 375.8 407.2 377 410C378.2 412.8 380.3 420.2 382 425C383.7 429.8 385.2 436.1 387 439C388.8 441.9 390.8 439.5 392.5 442.5C394.2 445.5 395.9 452.9 397.5 457C399.1 461.1 400.6 464.8 402 467C403.4 469.2 404.7 469.5 406 470C407.3 470.5 408.3 469.2 410 470C411.7 470.8 414.3 474.7 416 475C417.7 475.3 418.8 474.8 420 472C421.2 469.2 421.7 462 423 458C424.3 454 426.3 448.8 428 448C429.7 447.2 431.3 450.7 433 453C434.7 455.3 436.5 458.8 438 462C439.5 465.2 440.5 469.8 442 472C443.5 474.2 445.2 474.5 447 475C448.8 475.5 450.8 474.5 453 475C455.2 475.5 458 478 460 478C462 478 463.3 474.8 465 475C466.7 475.2 468 477.7 470 479C472 480.3 475.3 481.8 477 483C478.7 484.2 478.7 484.3 480 486C481.3 487.7 483.3 488.5 485 493C486.7 497.5 488.3 508 490 513C491.7 518 493 521.2 495 523C497 524.8 500 523.2 502 524C504 524.8 505.2 527.5 507 528C508.8 528.5 511.3 528.3 513 527C514.7 525.7 515.7 521.8 517 520C518.3 518.2 519.7 515.7 521 516C522.3 516.3 523.5 518.8 525 522C526.5 525.2 528 530.3 530 535C532 539.7 534.8 546 537 550C539.2 554 541.2 557.5 543 559C544.8 560.5 546.3 560.2 548 559C549.7 557.8 551.3 556.8 553 552C554.7 547.2 556.8 535.3 558 530C559.2 524.7 558.8 525.8 560 520C561.2 514.2 563.3 501.7 565 495C566.7 488.3 568 484.2 570 480C572 475.8 574.8 473.3 577 470C579.2 466.7 581.2 463.8 583 460C584.8 456.2 586.4 449.8 588 447C589.6 444.2 591 442.8 592.5 443C594 443.2 595.2 449 597 448C598.8 447 601.2 442 603 437C604.8 432 606.3 423.3 608 418C609.7 412.7 611 409.3 613 405C615 400.7 618 395 620 392C622 389 623 388 625 387C627 386 629.8 386.3 632 386C634.2 385.7 636.3 383.8 638 385C639.7 386.2 640.5 389.7 642 393C643.5 396.3 645.3 402.3 647 405C648.7 407.7 650.7 406.8 652 409C653.3 411.2 654 414.3 655 418C656 421.7 656.7 426 658 431C659.3 436 661.3 441.2 663 448C664.7 454.8 666.3 466.3 668 472C669.7 477.7 671 480.8 673 482C675 483.2 677.7 481.3 680 479C682.3 476.7 685 470.8 687 468C689 465.2 690.3 463.3 692 462.5C693.7 461.7 695.2 464.6 697 463C698.8 461.4 700.8 456.7 703 453C705.2 449.3 707.7 442.3 710 441C712.3 439.7 714.5 445.8 717 445C719.5 444.2 722.7 437.4 725 436C727.3 434.6 728.7 435.1 731 436.5C733.3 437.9 736.3 444.2 739 444.5C741.7 444.8 744.7 440.9 747 438C749.3 435.1 751.2 431.3 753 427C754.8 422.7 756.4 415.2 758 412C759.6 408.8 760.8 408.2 762.5 408C764.2 407.8 765.4 409.7 768 411C770.6 412.3 774.8 415.3 778 416C781.2 416.7 784.5 413.9 787 415C789.5 416.1 791.2 422.2 793 422.5C794.8 422.8 796.3 420.2 798 417C799.7 413.8 801.3 407 803 403C804.7 399 806 395.5 808 393C810 390.5 812.5 388.9 815 388C817.5 387.1 820.5 388.3 823 387.5C825.5 386.7 827.8 384.2 830 383C832.2 381.8 834 379.7 836 380C838 380.3 840.2 383 842 385C843.8 387 844.8 389.8 847 392C849.2 394.2 852.5 395 855 398C857.5 401 860 406 862 410C864 414 865.3 417.8 867 422C868.7 426.2 870.3 430.7 872 435C873.7 439.3 875.2 443.8 877 448C878.8 452.2 880.8 456.8 883 460C885.2 463.2 888 465.8 890 467.5C892 469.2 893 470.4 895 470C897 469.6 899.8 466 902 465C904.2 464 906.2 464.4 908 464C909.8 463.6 911 464 913 462.5C915 461 918 458.2 920 455C922 451.8 923.3 446.7 925 443C926.7 439.3 928.7 435.2 930 433C931.3 430.8 931.7 432.7 933 430C934.3 427.3 936.3 420.8 938 417C939.7 413.2 941.3 408.7 943 407C944.7 405.3 946.3 407.7 948 407C949.7 406.3 951.3 403.5 953 403C954.7 402.5 956.3 403 958 404C959.7 405 961 407.7 963 409C965 410.3 968 411.4 970 412C972 412.6 973.3 414.2 975 412.5C976.7 410.8 978.5 406.9 980 402C981.5 397.1 982.7 388.7 984 383C985.3 377.3 986.5 373.2 988 368C989.5 362.8 991.4 357 993 352C994.6 347 996.3 342.2 997.5 338C998.7 333.8 999 331.8 1000 327C1001 322.2 1002.4 314.8 1003.5 309C1004.6 303.2 1005.8 296.2 1006.7 292C1007.6 287.8 1007.9 286.8 1008.8 284C1009.7 281.2 1010.9 277.8 1012 275.5C1013.1 273.2 1014.3 271.6 1015.6 270.4C1016.9 269.1 1018.4 268.7 1020 268C1021.6 267.3 1023.1 266.8 1025 266C1026.9 265.2 1029.5 262.8 1031.2 263C1032.9 263.2 1033.5 265.5 1035 267C1036.5 268.5 1039.2 271.2 1040 272" stroke="#ff9800" stroke-width="1.9"/>
<path d="M0 234C1.3 231.7 5.2 226.2 8 220C10.8 213.8 13.8 205.3 17 197C20.2 188.7 24.3 176.2 27 170C29.7 163.8 30.3 164.5 33 160C35.7 155.5 40.5 146.7 43 143C45.5 139.3 46.3 140.2 48 138C49.7 135.8 51.3 132.7 53 130C54.7 127.3 56.2 124.3 58 122C59.8 119.7 62 117.7 64 116C66 114.3 68 112.9 70 112C72 111.1 74 110.7 76 110.5C78 110.3 80 109.4 82 111C84 112.6 86 116.8 88 120C90 123.2 92.3 127.2 94 130C95.7 132.8 95.7 135 98 137C100.3 139 104.8 140 108 142C111.2 144 114.5 147.7 117 149C119.5 150.3 120.8 151.1 123 150C125.2 148.9 127.7 145 130 142.5C132.3 140 135 136.2 137 135C139 133.8 139.3 134.7 142 135C144.7 135.3 148.8 136.8 153 137C157.2 137.2 163.3 136.5 167 136C170.7 135.5 171.7 134.5 175 134C178.3 133.5 183.5 133 187 133C190.5 133 193.8 132.8 196 134C198.2 135.2 198.2 137.8 200 140C201.8 142.2 204.8 144 207 147C209.2 150 211.8 155.8 213 158C214.2 160.2 212.8 158 214 160C215.2 162 218.2 165 220 170C221.8 175 223 182.8 225 190C227 197.2 229.8 205.2 232 213C234.2 220.8 235.8 230.3 238 237C240.2 243.7 243.5 249.2 245 253C246.5 256.8 245.7 256 247 260C248.3 264 250.7 271.2 253 277C255.3 282.8 258.7 289.2 261 295C263.3 300.8 265 306.2 267 312C269 317.8 270.8 324 273 330C275.2 336 277.7 341.7 280 348C282.3 354.3 284.8 361.8 287 368C289.2 374.2 290.3 379.8 293 385C295.7 390.2 299.8 396.1 303 399C306.2 401.9 309.2 401.5 312 402.5C314.8 403.5 317.5 405.1 320 405C322.5 404.9 324.5 402.3 327 402C329.5 401.7 332.5 402.2 335 403C337.5 403.8 339.8 405.3 342 407C344.2 408.7 344.5 412 348 413C351.5 414 359.3 412.8 363 413C366.7 413.2 367.2 414 370 414C372.8 414 376.7 413.2 380 413C383.3 412.8 387 411.8 390 412.5C393 413.2 395.2 415.2 398 417C400.8 418.8 404.5 420.5 407 423C409.5 425.5 410.8 429.8 413 432C415.2 434.2 417.5 435 420 436C422.5 437 425.2 436.8 428 438C430.8 439.2 433.8 441 437 443C440.2 445 443.7 447.5 447 450C450.3 452.5 453.7 455.2 457 458C460.3 460.8 464 464.7 467 467C470 469.3 472 470.3 475 472C478 473.7 482.2 475.2 485 477C487.8 478.8 489.8 481.7 492 483C494.2 484.3 495.5 483.8 498 485C500.5 486.2 503.8 488.5 507 490C510.2 491.5 514.3 492.3 517 494C519.7 495.7 520.5 497.3 523 500C525.5 502.7 528.8 507 532 510C535.2 513 539 515.3 542 518C545 520.7 547.8 524.3 550 526C552.2 527.7 553 527.8 555 528C557 528.2 559.2 527.9 562 527C564.8 526.1 568.7 524.1 572 522.5C575.3 520.9 578.7 520.4 582 517.5C585.3 514.6 589.3 507.8 592 505C594.7 502.2 595.5 503.5 598 501C600.5 498.5 604.2 493.8 607 490C609.8 486.2 612.3 482.2 615 478C617.7 473.8 620.2 470 623 465C625.8 460 629.5 453 632 448C634.5 443 635.5 439.2 638 435C640.5 430.8 644.2 426 647 423C649.8 420 652.5 417.7 655 417C657.5 416.3 659.8 417.7 662 419C664.2 420.3 665.3 423.5 668 425C670.7 426.5 674.3 427 678 428C681.7 429 686.3 430.2 690 431C693.7 431.8 697 431.7 700 432.5C703 433.3 705.2 434.4 708 436C710.8 437.6 714.2 440.2 717 442C719.8 443.8 722.8 445.8 725 447C727.2 448.2 727.8 447.8 730 449C732.2 450.2 735 453 738 454C741 455 745.2 455.2 748 455C750.8 454.8 752.5 454.6 755 452.5C757.5 450.4 760 445.8 763 442.5C766 439.2 769.7 435.4 773 433C776.3 430.6 779 429.3 783 428C787 426.7 793.3 426.3 797 425C800.7 423.7 802 422 805 420C808 418 811.7 414.8 815 413C818.3 411.2 822 410.7 825 409C828 407.3 830.2 404.8 833 403C835.8 401.2 839.2 398.9 842 398C844.8 397.1 847.3 397.2 850 397.5C852.7 397.8 854.7 398.9 858 400C861.3 401.1 866.3 402.3 870 404C873.7 405.7 876.7 408.2 880 410C883.3 411.8 886.7 413 890 415C893.3 417 897.2 419.7 900 422C902.8 424.3 904.5 426.5 907 429C909.5 431.5 912.5 435.3 915 437C917.5 438.7 919.5 438.3 922 439C924.5 439.7 926.2 440.5 930 441C933.8 441.5 940.8 442 945 442C949.2 442 952.2 441.5 955 441C957.8 440.5 959.5 439.8 962 439C964.5 438.2 967 437.8 970 436C973 434.2 977.2 431 980 428C982.8 425 984.5 421.8 987 418C989.5 414.2 992.3 410 995 405C997.7 400 1000.5 393.5 1003 388C1005.5 382.5 1008 376.1 1010 372C1012 367.9 1012.8 367.2 1015 363.3C1017.2 359.4 1020.5 352.7 1023.3 348.3C1026.1 343.9 1028.9 340 1031.7 336.7C1034.5 333.4 1038.6 329.7 1040 328.3" stroke="#3fa83f" stroke-width="2"/>
<path d="M0 211C1.7 208.8 7 203.5 10 198C13 192.5 15.2 183.3 18 178C20.8 172.7 24.2 167.5 27 166C29.8 164.5 32.5 169.2 35 169C37.5 168.8 39.5 167.7 42 165C44.5 162.3 47.3 156.7 50 153C52.7 149.3 55.2 144.8 58 143C60.8 141.2 63.8 142.1 67 142C70.2 141.9 74.3 141.2 77 142.5C79.7 143.8 80.3 147.8 83 150C85.7 152.2 89.7 153.9 93 156C96.3 158.1 99.7 161 103 162.5C106.3 164 110.2 165.2 113 165C115.8 164.8 117.5 163.8 120 161C122.5 158.2 125.2 152.3 128 148C130.8 143.7 134.2 138.5 137 135C139.8 131.5 142.8 128.8 145 127C147.2 125.2 148 124.8 150 124C152 123.2 154.2 122 157 122C159.8 122 163.7 123.7 167 124C170.3 124.3 174 122.2 177 124C180 125.8 182.3 131.8 185 135C187.7 138.2 190.8 139.7 193 143C195.2 146.3 196.8 152.2 198 155C199.2 157.8 198.5 156.3 200 160C201.5 163.7 204.8 170.7 207 177C209.2 183.3 210.8 192 213 198C215.2 204 218 206.8 220 213C222 219.2 223.3 228 225 235C226.7 242 228.8 250.8 230 255C231.2 259.2 230.7 256.3 232 260C233.3 263.7 235.3 272.3 238 277C240.7 281.7 245.2 284.2 248 288C250.8 291.8 252.6 295.7 255 300C257.4 304.3 260 310.2 262.5 314C265 317.8 267.4 318.7 270 323C272.6 327.3 275.5 334.7 278 340C280.5 345.3 283 350.5 285 355C287 359.5 287.2 362.8 290 367C292.8 371.2 298.7 377.5 302 380C305.3 382.5 307.5 382 310 382C312.5 382 314.5 379.8 317 380C319.5 380.2 321.5 381.7 325 383C328.5 384.3 334.3 386 338 388C341.7 390 343.8 394 347 395C350.2 396 353.5 393.8 357 394C360.5 394.2 365.8 395.5 368 396C370.2 396.5 368.5 396.3 370 397C371.5 397.7 374.5 398 377 400C379.5 402 382.5 406.5 385 409C387.5 411.5 389.8 412.2 392 415C394.2 417.8 395.8 423.1 398 426C400.2 428.9 402.7 430.7 405 432.5C407.3 434.3 409.8 435.3 412 437C414.2 438.7 415.8 442 418 442.5C420.2 443 422.7 440.1 425 440C427.3 439.9 429.2 440.3 432 442C434.8 443.7 438.5 447.7 442 450C445.5 452.3 449.5 454.3 453 456C456.5 457.7 459.7 458.7 463 460C466.3 461.3 469.7 462.2 473 464C476.3 465.8 480.2 468.2 483 471C485.8 473.8 487.5 478.2 490 481C492.5 483.8 495.2 485.5 498 488C500.8 490.5 504.5 494 507 496C509.5 498 510.8 499.3 513 500C515.2 500.7 517.7 498.8 520 500C522.3 501.2 524.2 504 527 507C529.8 510 534 514.8 537 518C540 521.2 542.3 524.2 545 526C547.7 527.8 550.5 529.8 553 529C555.5 528.2 557.2 524.7 560 521C562.8 517.3 566.7 511 570 507C573.3 503 576.7 501 580 497C583.3 493 587 486 590 483C593 480 595.2 481.5 598 479C600.8 476.5 604.2 472.3 607 468C609.8 463.7 612.3 457.7 615 453C617.7 448.3 620 443.9 623 440C626 436.1 630.2 432 633 429.5C635.8 427 637.7 425.4 640 425C642.3 424.6 645 427 647 427C649 427 650.3 424.8 652 425C653.7 425.2 655.2 426.3 657 428C658.8 429.7 661.3 432.7 663 435C664.7 437.3 665.3 439.5 667 442C668.7 444.5 670.5 448.2 673 450C675.5 451.8 679.2 452.6 682 453C684.8 453.4 687.3 452.5 690 452.5C692.7 452.5 695.2 453.6 698 453C700.8 452.4 704.2 449.9 707 449C709.8 448.1 712.3 447.8 715 447.5C717.7 447.2 720.2 447.6 723 447C725.8 446.4 729.2 444.2 732 444C734.8 443.8 737 446.5 740 446C743 445.5 747 443 750 441C753 439 755.8 435.7 758 434C760.2 432.3 760.5 432.1 763 431C765.5 429.9 769.3 428.5 773 427.5C776.7 426.5 781.7 425.2 785 425C788.3 424.8 790.2 426.8 793 426C795.8 425.2 798.8 422.3 802 420C805.2 417.7 808.7 414.2 812 412C815.3 409.8 818.7 408.8 822 407C825.3 405.2 829 402.5 832 401C835 399.5 837 398.3 840 398C843 397.7 847 398.2 850 399C853 399.8 855.2 400.7 858 402.5C860.8 404.3 864.2 407.2 867 410C869.8 412.8 872.3 415.7 875 419C877.7 422.3 880.5 427 883 430C885.5 433 887.7 435.3 890 437C892.3 438.7 894.5 439.1 897 440C899.5 440.9 902.3 441.7 905 442.5C907.7 443.3 910.2 444.6 913 445C915.8 445.4 919.2 445.8 922 445C924.8 444.2 928.3 441.2 930 440C931.7 438.8 930 439.7 932 438C934 436.3 938.7 432.3 942 430C945.3 427.7 949 425.5 952 424C955 422.5 957 421.5 960 421C963 420.5 967.2 421.2 970 421C972.8 420.8 974.8 421.3 977 420C979.2 418.7 980.8 416 983 413C985.2 410 987.5 406.2 990 402C992.5 397.8 995.5 392.9 998 387.5C1000.5 382.1 1003.4 373.5 1005 369.5C1006.6 365.5 1006.3 366.2 1007.5 363.3C1008.7 360.4 1010.5 355.6 1012 352C1013.5 348.4 1014.9 345 1016.7 341.7C1018.5 338.4 1020.8 335.1 1023 332C1025.2 328.9 1028 325.6 1030 323.3C1032 321.1 1033.3 319.9 1035 318.5C1036.7 317.1 1039.2 315.6 1040 315" stroke="#9a1414" stroke-width="1.4"/>
</g>
<path d="M529.7 587.8L1070 458" stroke="#00796b" stroke-width="1.3" fill="none"/>
<path d="M1009.3 213.3L1056.7 279.7" stroke="#b71c1c" stroke-width="1.3" fill="none"/>
<path d="M1001.3 270L1045 309" stroke="#b71c1c" stroke-width="1.3" fill="none"/>
<path d="M1037 271L1040 287L1034 294" stroke="#673ab7" stroke-width="1.6" fill="none" stroke-linejoin="round"/>
<path d="M966 427L976 423.7" stroke="#2a2aff" stroke-width="1" fill="none"/>
<text x="1073.8" y="305" font-size="9.3" fill="#8e6fd0" stroke="#8e6fd0" stroke-width="0.25" textLength="62.4" lengthAdjust="spacingAndGlyphs">0.382(1445.45)</text>
<text x="1073.3" y="329.9" font-size="9.3" fill="#7cb868" stroke="#7cb868" stroke-width="0.25" textLength="53" lengthAdjust="spacingAndGlyphs">0.5(1411.19)</text>
<text x="1073.8" y="354.7" font-size="9.3" fill="#6a63c4" stroke="#6a63c4" stroke-width="0.25" textLength="62.4" lengthAdjust="spacingAndGlyphs">0.618(1376.92)</text>
<g>
<text x="7.6" y="18.1" font-size="11.8" fill="#444" stroke="#444" stroke-width="0.25" textLength="190.5" lengthAdjust="spacingAndGlyphs">Gold Spot / U.S. Dollar · 1D · FXCM</text>
<text x="207" y="17.9" font-size="9.9" fill="#3f6b45" stroke="#3f6b45" stroke-width="0.15" textLength="254" lengthAdjust="spacingAndGlyphs" xml:space="preserve">O1455.33  H1459.15  L1455.06  C1458.35  +3.02 (+0.21%)</text>
<rect x="6.8" y="24.5" width="15.6" height="15.6" rx="2.5" fill="#fff" stroke="#d8d8e6" stroke-width="1"/>
<path d="M11.9 31.1L14.7 33.6L17.5 31.1" stroke="#2c2c2c" stroke-width="1.4" fill="none" stroke-linecap="round" stroke-linejoin="round"/>
<rect x="27" y="25" width="94" height="16.6" fill="#fff" fill-opacity="0.62"/>
<text x="28.4" y="35.8" font-size="9.9" fill="#bbbdc9" stroke="#bbbdc9" stroke-width="0.15" textLength="90" lengthAdjust="spacingAndGlyphs">Ichimoku 9 26 52 26</text>
<g stroke="#2c2c2c" stroke-width="1.1" fill="none" stroke-linecap="round"><path d="M128.4 32.3C131 28.1 138.2 28.1 140.8 32.3C138.2 36.5 131 36.5 128.4 32.3Z"/><circle cx="134.6" cy="32.3" r="2.1" stroke-width="0.9"/><path d="M130.2 36.4L138.9 27.9"/></g>
<rect x="27" y="41.6" width="103" height="18.8" fill="#fff" fill-opacity="0.62"/>
<text x="28.2" y="54.1" class="lg" textLength="58" lengthAdjust="spacingAndGlyphs">MA 100 close</text>
<text x="94" y="54.1" font-size="9.9" fill="#2196f3" stroke="#2196f3" stroke-width="0.2" textLength="35" lengthAdjust="spacingAndGlyphs">1484.53</text>
<rect x="27" y="60.2" width="103" height="18.8" fill="#fff" fill-opacity="0.62"/>
<text x="28.2" y="72.7" class="lg" textLength="58" lengthAdjust="spacingAndGlyphs">EMA 55 close</text>
<text x="94" y="72.7" font-size="9.9" fill="#ff9800" stroke="#ff9800" stroke-width="0.2" textLength="35" lengthAdjust="spacingAndGlyphs">1477.06</text>
<rect x="27" y="79" width="103" height="18.8" fill="#fff" fill-opacity="0.62"/>
<text x="28.2" y="91.5" class="lg" textLength="58" lengthAdjust="spacingAndGlyphs">MA 200 close</text>
<text x="94" y="91.5" font-size="9.9" fill="#43a047" stroke="#43a047" stroke-width="0.2" textLength="35" lengthAdjust="spacingAndGlyphs">1401.00</text>
<rect x="27" y="98" width="108.5" height="18.8" fill="#fff" fill-opacity="0.62"/>
<text x="28.2" y="110.5" class="lg" textLength="63.5" lengthAdjust="spacingAndGlyphs">EMA 200 close</text>
<text x="100" y="110.5" font-size="9.9" fill="#a52a2a" stroke="#a52a2a" stroke-width="0.2" textLength="34.5" lengthAdjust="spacingAndGlyphs">1418.18</text>
</g>
<path d="M554.5 0V11.4Q554.5 13.4 556.5 13.4H650Q652 13.4 652 11.4V0" fill="#fff" stroke="#dcdcdc" stroke-width="1"/>
<text x="558" y="10" font-size="8.6" font-weight="bold" fill="#aaaaaa" textLength="86" lengthAdjust="spacingAndGlyphs">Exit Full Screen (ESC)</text>
<rect x="1146" y="0" width="54" height="653" fill="#fff"/>
<rect x="0" y="622" width="1200" height="31" fill="#fff"/>
<path d="M1146.4 0V645.5" stroke="#666" stroke-width="1.2"/>
<path d="M0 621.5H1200" stroke="#5c5c5c" stroke-width="1"/>
<path d="M1146.5 4.4H1150M1146.5 33.9H1150M1146.5 63.4H1150M1146.5 92.9H1150M1146.5 122.4H1150M1146.5 151.9H1150M1146.5 181.4H1150M1146.5 210.9H1150M1146.5 240.4H1150M1146.5 269.9H1150M1146.5 299.4H1150M1146.5 328.9H1150M1146.5 358.4H1150M1146.5 387.9H1150M1146.5 417.4H1150M1146.5 446.9H1150M1146.5 476.4H1150M1146.5 505.9H1150M1146.5 535.4H1150M1146.5 564.9H1150M1146.5 594.4H1150M34.5 621.5V624.5M162.5 621.5V624.5M289.5 621.5V624.5M417.1 621.5V624.5M543.7 621.5V624.5M671 621.5V624.5M797.5 621.5V624.5M924.5 621.5V624.5M1051.3 621.5V624.5" stroke="#6e6e6e" stroke-width="1"/>
<text x="1154.5" y="8.5" class="ax" textLength="38.5" lengthAdjust="spacingAndGlyphs">1840.00</text>
<text x="1154.5" y="38" class="ax" textLength="38.5" lengthAdjust="spacingAndGlyphs">1800.00</text>
<text x="1154.5" y="67.5" class="ax" textLength="38.5" lengthAdjust="spacingAndGlyphs">1760.00</text>
<text x="1154.5" y="97" class="ax" textLength="38.5" lengthAdjust="spacingAndGlyphs">1720.00</text>
<text x="1154.5" y="126.5" class="ax" textLength="38.5" lengthAdjust="spacingAndGlyphs">1680.00</text>
<text x="1154.5" y="156" class="ax" textLength="38.5" lengthAdjust="spacingAndGlyphs">1640.00</text>
<text x="1154.5" y="185.5" class="ax" textLength="38.5" lengthAdjust="spacingAndGlyphs">1600.00</text>
<text x="1154.5" y="215" class="ax" textLength="38.5" lengthAdjust="spacingAndGlyphs">1560.00</text>
<text x="1154.5" y="244.5" class="ax" textLength="38.5" lengthAdjust="spacingAndGlyphs">1520.00</text>
<text x="1154.5" y="274" class="ax" textLength="38.5" lengthAdjust="spacingAndGlyphs">1480.00</text>
<text x="1154.5" y="303.5" class="ax" textLength="38.5" lengthAdjust="spacingAndGlyphs">1440.00</text>
<text x="1154.5" y="333" class="ax" textLength="38.5" lengthAdjust="spacingAndGlyphs">1400.00</text>
<text x="1154.5" y="362.5" class="ax" textLength="38.5" lengthAdjust="spacingAndGlyphs">1360.00</text>
<text x="1154.5" y="392" class="ax" textLength="38.5" lengthAdjust="spacingAndGlyphs">1320.00</text>
<text x="1154.5" y="421.5" class="ax" textLength="38.5" lengthAdjust="spacingAndGlyphs">1280.00</text>
<text x="1154.5" y="451" class="ax" textLength="38.5" lengthAdjust="spacingAndGlyphs">1240.00</text>
<text x="1154.5" y="480.5" class="ax" textLength="38.5" lengthAdjust="spacingAndGlyphs">1200.00</text>
<text x="1154.5" y="510" class="ax" textLength="38.5" lengthAdjust="spacingAndGlyphs">1160.00</text>
<text x="1154.5" y="539.5" class="ax" textLength="38.5" lengthAdjust="spacingAndGlyphs">1120.00</text>
<text x="1154.5" y="569" class="ax" textLength="38.5" lengthAdjust="spacingAndGlyphs">1080.00</text>
<text x="1154.5" y="598.5" class="ax" textLength="38.5" lengthAdjust="spacingAndGlyphs">1040.00</text>
<text x="34.5" y="638.7" class="yr">2012</text>
<text x="162.5" y="638.7" class="yr">2013</text>
<text x="289.5" y="638.7" class="yr">2014</text>
<text x="417.1" y="638.7" class="yr">2015</text>
<text x="543.7" y="638.7" class="yr">2016</text>
<text x="671" y="638.7" class="yr">2017</text>
<text x="797.5" y="638.7" class="yr">2018</text>
<text x="924.5" y="638.7" class="yr">2019</text>
<text x="1051.3" y="638.7" class="yr">2020</text>
<rect x="1146" y="294" width="54" height="17.7" fill="#1b5e20"/>
<path d="M1146 302.7H1149" stroke="#ddd" stroke-width="1"/>
<text x="1154.5" y="306.6" class="bx" textLength="38.5" lengthAdjust="spacingAndGlyphs">1446.02</text>
<rect x="1146" y="277.5" width="54" height="17.2" fill="#38761d"/>
<path d="M1146 285.5H1149" stroke="#ddd" stroke-width="1"/>
<text x="1154.5" y="289.4" class="bx" textLength="38.5" lengthAdjust="spacingAndGlyphs">1458.35</text>
<rect x="1146" y="338.3" width="54" height="17.2" fill="#0505f5"/>
<path d="M1146 346.5H1149" stroke="#ddd" stroke-width="1"/>
<text x="1154.5" y="350.4" class="bx" textLength="38.5" lengthAdjust="spacingAndGlyphs">1375.49</text>
<rect x="1146" y="435.5" width="54" height="17.8" fill="#aa00ff"/>
<path d="M1146 444.5H1149" stroke="#ddd" stroke-width="1"/>
<text x="1154.5" y="448.4" class="bx" textLength="38.5" lengthAdjust="spacingAndGlyphs">1249.02</text>
<rect x="1146" y="419" width="54" height="17" fill="#0505f5"/>
<path d="M1146 427.4H1149" stroke="#ddd" stroke-width="1"/>
<text x="1154.5" y="431.3" class="bx" textLength="38.5" lengthAdjust="spacingAndGlyphs">1265.54</text>
<circle cx="1172.5" cy="634.5" r="7.3" fill="#eeeff4"/>
<text x="1172.5" y="637.6" font-size="8.6" fill="#333" text-anchor="middle">A</text>
<circle cx="532.6" cy="608.5" r="11" fill="#fff" stroke="#f3f3f5" stroke-width="1"/>
<circle cx="560.7" cy="608.5" r="11" fill="#fff" stroke="#f3f3f5" stroke-width="1"/>
<circle cx="599.6" cy="608.5" r="11" fill="#fff" stroke="#f3f3f5" stroke-width="1"/>
<circle cx="628.3" cy="608.5" r="11" fill="#fff" stroke="#f3f3f5" stroke-width="1"/>
<circle cx="667.1" cy="608.5" r="11" fill="#fff" stroke="#f3f3f5" stroke-width="1"/>
<g stroke="#3a3e4c" stroke-width="1.6" fill="none" stroke-linecap="round" stroke-linejoin="round"><path d="M528.6 608.6H536.8"/><path d="M556.5 608.6H564.9M560.7 604.4V612.8"/><path d="M601.5 604.1L597.4 608.6L601.5 613.1"/><path d="M626.6 604.1L630.7 608.6L626.6 613.1"/><path d="M666.6 604.8A4.7 4.7 0 1 1 662.6 609.6"/><path d="M663.2 604.9L665.7 602.5V607.3Z" fill="#3a3e4c" stroke-width="0.8"/></g>
</svg>
</body></html>
